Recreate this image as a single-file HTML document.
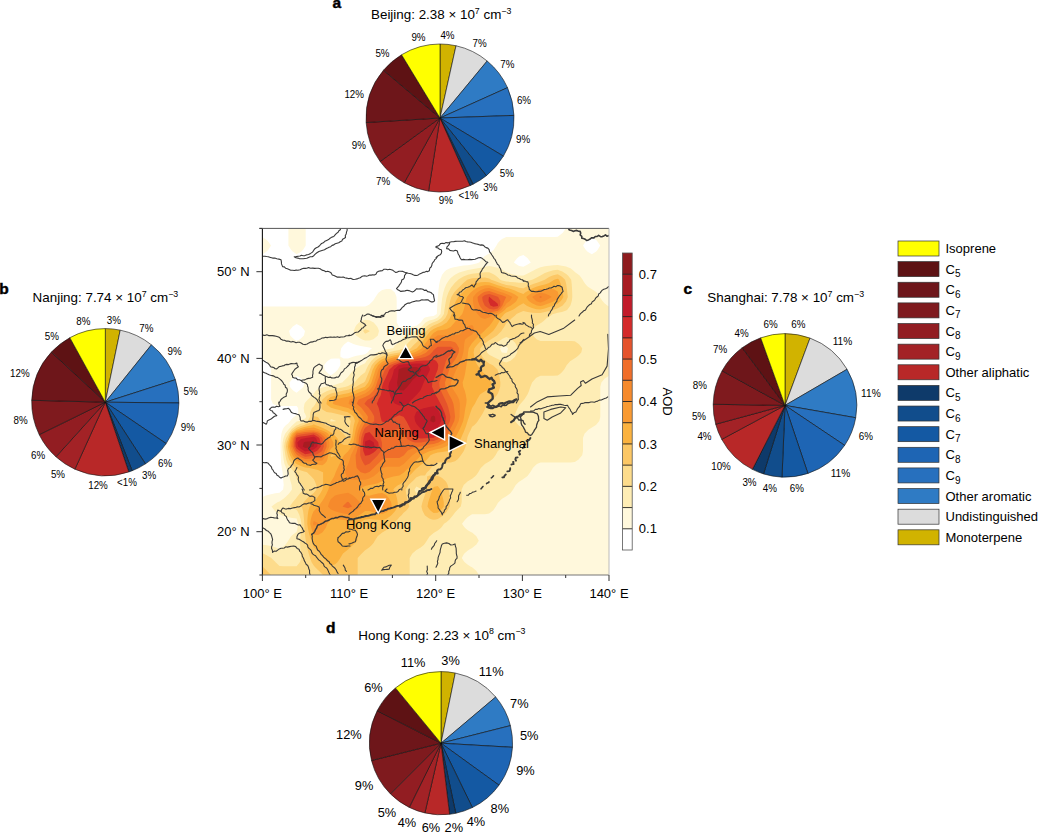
<!DOCTYPE html><html><head><meta charset="utf-8"><style>html,body{margin:0;padding:0;background:#fff;}svg{display:block;}</style></head><body><svg width="1039" height="833" viewBox="0 0 1039 833" font-family='"Liberation Sans", sans-serif' fill="#000">
<rect width="1039" height="833" fill="#fff"/>
<path d="M440.00 118.00L440.00 44.00A74 74 0 0 1 456.02 45.75Z" fill="#d1b300" stroke="#111" stroke-width="0.6" stroke-linejoin="round"/>
<path d="M440.00 118.00L456.02 45.75A74 74 0 0 1 487.17 60.98Z" fill="#dcdcdc" stroke="#111" stroke-width="0.6" stroke-linejoin="round"/>
<path d="M440.00 118.00L487.17 60.98A74 74 0 0 1 507.50 87.67Z" fill="#2f7bc4" stroke="#111" stroke-width="0.6" stroke-linejoin="round"/>
<path d="M440.00 118.00L507.50 87.67A74 74 0 0 1 513.95 115.42Z" fill="#2770be" stroke="#111" stroke-width="0.6" stroke-linejoin="round"/>
<path d="M440.00 118.00L513.95 115.42A74 74 0 0 1 503.43 156.11Z" fill="#1e65b4" stroke="#111" stroke-width="0.6" stroke-linejoin="round"/>
<path d="M440.00 118.00L503.43 156.11A74 74 0 0 1 486.37 175.67Z" fill="#1459a3" stroke="#111" stroke-width="0.6" stroke-linejoin="round"/>
<path d="M440.00 118.00L486.37 175.67A74 74 0 0 1 473.02 184.23Z" fill="#114d8c" stroke="#111" stroke-width="0.6" stroke-linejoin="round"/>
<path d="M440.00 118.00L473.02 184.23A74 74 0 0 1 469.98 185.65Z" fill="#0e3a6a" stroke="#111" stroke-width="0.6" stroke-linejoin="round"/>
<path d="M440.00 118.00L469.98 185.65A74 74 0 0 1 428.55 191.11Z" fill="#b82828" stroke="#111" stroke-width="0.6" stroke-linejoin="round"/>
<path d="M440.00 118.00L428.55 191.11A74 74 0 0 1 404.24 182.78Z" fill="#a32226" stroke="#111" stroke-width="0.6" stroke-linejoin="round"/>
<path d="M440.00 118.00L404.24 182.78A74 74 0 0 1 380.13 161.50Z" fill="#921d22" stroke="#111" stroke-width="0.6" stroke-linejoin="round"/>
<path d="M440.00 118.00L380.13 161.50A74 74 0 0 1 366.14 122.52Z" fill="#7f1a1e" stroke="#111" stroke-width="0.6" stroke-linejoin="round"/>
<path d="M440.00 118.00L366.14 122.52A74 74 0 0 1 383.48 70.24Z" fill="#6e161a" stroke="#111" stroke-width="0.6" stroke-linejoin="round"/>
<path d="M440.00 118.00L383.48 70.24A74 74 0 0 1 401.56 54.77Z" fill="#5e1214" stroke="#111" stroke-width="0.6" stroke-linejoin="round"/>
<path d="M440.00 118.00L401.56 54.77A74 74 0 0 1 440.00 44.00Z" fill="#ffff00" stroke="#111" stroke-width="0.6" stroke-linejoin="round"/>
<path d="M105.30 402.20L105.30 328.60A73.6 73.6 0 0 1 120.23 330.13Z" fill="#d1b300" stroke="#111" stroke-width="0.6" stroke-linejoin="round"/>
<path d="M105.30 402.20L120.23 330.13A73.6 73.6 0 0 1 151.42 344.84Z" fill="#dcdcdc" stroke="#111" stroke-width="0.6" stroke-linejoin="round"/>
<path d="M105.30 402.20L151.42 344.84A73.6 73.6 0 0 1 175.38 379.70Z" fill="#2f7bc4" stroke="#111" stroke-width="0.6" stroke-linejoin="round"/>
<path d="M105.30 402.20L175.38 379.70A73.6 73.6 0 0 1 178.90 402.97Z" fill="#2770be" stroke="#111" stroke-width="0.6" stroke-linejoin="round"/>
<path d="M105.30 402.20L178.90 402.97A73.6 73.6 0 0 1 166.17 443.57Z" fill="#1e65b4" stroke="#111" stroke-width="0.6" stroke-linejoin="round"/>
<path d="M105.30 402.20L166.17 443.57A73.6 73.6 0 0 1 145.49 463.86Z" fill="#1459a3" stroke="#111" stroke-width="0.6" stroke-linejoin="round"/>
<path d="M105.30 402.20L145.49 463.86A73.6 73.6 0 0 1 132.15 470.73Z" fill="#114d8c" stroke="#111" stroke-width="0.6" stroke-linejoin="round"/>
<path d="M105.30 402.20L132.15 470.73A73.6 73.6 0 0 1 128.78 471.96Z" fill="#0e3a6a" stroke="#111" stroke-width="0.6" stroke-linejoin="round"/>
<path d="M105.30 402.20L128.78 471.96A73.6 73.6 0 0 1 74.90 469.23Z" fill="#b82828" stroke="#111" stroke-width="0.6" stroke-linejoin="round"/>
<path d="M105.30 402.20L74.90 469.23A73.6 73.6 0 0 1 55.96 456.81Z" fill="#a32226" stroke="#111" stroke-width="0.6" stroke-linejoin="round"/>
<path d="M105.30 402.20L55.96 456.81A73.6 73.6 0 0 1 39.26 434.69Z" fill="#921d22" stroke="#111" stroke-width="0.6" stroke-linejoin="round"/>
<path d="M105.30 402.20L39.26 434.69A73.6 73.6 0 0 1 31.73 400.27Z" fill="#7f1a1e" stroke="#111" stroke-width="0.6" stroke-linejoin="round"/>
<path d="M105.30 402.20L31.73 400.27A73.6 73.6 0 0 1 51.38 352.10Z" fill="#6e161a" stroke="#111" stroke-width="0.6" stroke-linejoin="round"/>
<path d="M105.30 402.20L51.38 352.10A73.6 73.6 0 0 1 69.84 337.70Z" fill="#5e1214" stroke="#111" stroke-width="0.6" stroke-linejoin="round"/>
<path d="M105.30 402.20L69.84 337.70A73.6 73.6 0 0 1 105.30 328.60Z" fill="#ffff00" stroke="#111" stroke-width="0.6" stroke-linejoin="round"/>
<path d="M785.00 405.40L785.00 333.60A71.8 71.8 0 0 1 810.03 338.10Z" fill="#d1b300" stroke="#111" stroke-width="0.6" stroke-linejoin="round"/>
<path d="M785.00 405.40L810.03 338.10A71.8 71.8 0 0 1 847.05 369.28Z" fill="#dcdcdc" stroke="#111" stroke-width="0.6" stroke-linejoin="round"/>
<path d="M785.00 405.40L847.05 369.28A71.8 71.8 0 0 1 855.73 417.74Z" fill="#2f7bc4" stroke="#111" stroke-width="0.6" stroke-linejoin="round"/>
<path d="M785.00 405.40L855.73 417.74A71.8 71.8 0 0 1 844.66 445.34Z" fill="#2770be" stroke="#111" stroke-width="0.6" stroke-linejoin="round"/>
<path d="M785.00 405.40L844.66 445.34A71.8 71.8 0 0 1 807.90 473.45Z" fill="#1e65b4" stroke="#111" stroke-width="0.6" stroke-linejoin="round"/>
<path d="M785.00 405.40L807.90 473.45A71.8 71.8 0 0 1 781.99 477.14Z" fill="#1459a3" stroke="#111" stroke-width="0.6" stroke-linejoin="round"/>
<path d="M785.00 405.40L781.99 477.14A71.8 71.8 0 0 1 763.53 473.91Z" fill="#114d8c" stroke="#111" stroke-width="0.6" stroke-linejoin="round"/>
<path d="M785.00 405.40L763.53 473.91A71.8 71.8 0 0 1 752.40 469.37Z" fill="#0e3a6a" stroke="#111" stroke-width="0.6" stroke-linejoin="round"/>
<path d="M785.00 405.40L752.40 469.37A71.8 71.8 0 0 1 721.72 439.33Z" fill="#b82828" stroke="#111" stroke-width="0.6" stroke-linejoin="round"/>
<path d="M785.00 405.40L721.72 439.33A71.8 71.8 0 0 1 715.71 424.23Z" fill="#a32226" stroke="#111" stroke-width="0.6" stroke-linejoin="round"/>
<path d="M785.00 405.40L715.71 424.23A71.8 71.8 0 0 1 713.21 404.27Z" fill="#921d22" stroke="#111" stroke-width="0.6" stroke-linejoin="round"/>
<path d="M785.00 405.40L713.21 404.27A71.8 71.8 0 0 1 722.08 370.81Z" fill="#7f1a1e" stroke="#111" stroke-width="0.6" stroke-linejoin="round"/>
<path d="M785.00 405.40L722.08 370.81A71.8 71.8 0 0 1 742.19 347.76Z" fill="#6e161a" stroke="#111" stroke-width="0.6" stroke-linejoin="round"/>
<path d="M785.00 405.40L742.19 347.76A71.8 71.8 0 0 1 760.68 337.84Z" fill="#5e1214" stroke="#111" stroke-width="0.6" stroke-linejoin="round"/>
<path d="M785.00 405.40L760.68 337.84A71.8 71.8 0 0 1 785.00 333.60Z" fill="#ffff00" stroke="#111" stroke-width="0.6" stroke-linejoin="round"/>
<path d="M441.00 743.20L441.00 671.60A71.6 71.6 0 0 1 455.27 673.04Z" fill="#d1b300" stroke="#111" stroke-width="0.6" stroke-linejoin="round"/>
<path d="M441.00 743.20L455.27 673.04A71.6 71.6 0 0 1 495.69 696.99Z" fill="#dcdcdc" stroke="#111" stroke-width="0.6" stroke-linejoin="round"/>
<path d="M441.00 743.20L495.69 696.99A71.6 71.6 0 0 1 510.41 725.64Z" fill="#2f7bc4" stroke="#111" stroke-width="0.6" stroke-linejoin="round"/>
<path d="M441.00 743.20L510.41 725.64A71.6 71.6 0 0 1 512.48 747.32Z" fill="#2770be" stroke="#111" stroke-width="0.6" stroke-linejoin="round"/>
<path d="M441.00 743.20L512.48 747.32A71.6 71.6 0 0 1 499.00 785.18Z" fill="#1e65b4" stroke="#111" stroke-width="0.6" stroke-linejoin="round"/>
<path d="M441.00 743.20L499.00 785.18A71.6 71.6 0 0 1 472.39 807.55Z" fill="#1459a3" stroke="#111" stroke-width="0.6" stroke-linejoin="round"/>
<path d="M441.00 743.20L472.39 807.55A71.6 71.6 0 0 1 455.76 813.26Z" fill="#114d8c" stroke="#111" stroke-width="0.6" stroke-linejoin="round"/>
<path d="M441.00 743.20L455.76 813.26A71.6 71.6 0 0 1 449.60 814.28Z" fill="#0e3a6a" stroke="#111" stroke-width="0.6" stroke-linejoin="round"/>
<path d="M441.00 743.20L449.60 814.28A71.6 71.6 0 0 1 424.89 812.96Z" fill="#b82828" stroke="#111" stroke-width="0.6" stroke-linejoin="round"/>
<path d="M441.00 743.20L424.89 812.96A71.6 71.6 0 0 1 409.28 807.39Z" fill="#a32226" stroke="#111" stroke-width="0.6" stroke-linejoin="round"/>
<path d="M441.00 743.20L409.28 807.39A71.6 71.6 0 0 1 390.46 793.92Z" fill="#921d22" stroke="#111" stroke-width="0.6" stroke-linejoin="round"/>
<path d="M441.00 743.20L390.46 793.92A71.6 71.6 0 0 1 371.53 760.52Z" fill="#7f1a1e" stroke="#111" stroke-width="0.6" stroke-linejoin="round"/>
<path d="M441.00 743.20L371.53 760.52A71.6 71.6 0 0 1 377.15 710.81Z" fill="#6e161a" stroke="#111" stroke-width="0.6" stroke-linejoin="round"/>
<path d="M441.00 743.20L377.15 710.81A71.6 71.6 0 0 1 395.46 687.95Z" fill="#5e1214" stroke="#111" stroke-width="0.6" stroke-linejoin="round"/>
<path d="M441.00 743.20L395.46 687.95A71.6 71.6 0 0 1 441.00 671.60Z" fill="#ffff00" stroke="#111" stroke-width="0.6" stroke-linejoin="round"/>
<text x="411.42" y="40.56" font-size="11.0" textLength="14.16" lengthAdjust="spacingAndGlyphs">9%</text>
<text x="440.42" y="39.26" font-size="11.0" textLength="14.16" lengthAdjust="spacingAndGlyphs">4%</text>
<text x="472.52" y="46.86" font-size="11.0" textLength="14.16" lengthAdjust="spacingAndGlyphs">7%</text>
<text x="500.22" y="68.26" font-size="11.0" textLength="14.16" lengthAdjust="spacingAndGlyphs">7%</text>
<text x="516.92" y="104.36" font-size="11.0" textLength="14.16" lengthAdjust="spacingAndGlyphs">6%</text>
<text x="516.12" y="143.16" font-size="11.0" textLength="14.16" lengthAdjust="spacingAndGlyphs">9%</text>
<text x="499.72" y="176.76" font-size="11.0" textLength="14.16" lengthAdjust="spacingAndGlyphs">5%</text>
<text x="483.32" y="190.56" font-size="11.0" textLength="14.16" lengthAdjust="spacingAndGlyphs">3%</text>
<text x="458.56" y="198.96" font-size="11.0" textLength="19.88" lengthAdjust="spacingAndGlyphs">&lt;1%</text>
<text x="438.72" y="204.46" font-size="11.0" textLength="14.16" lengthAdjust="spacingAndGlyphs">9%</text>
<text x="405.92" y="201.96" font-size="11.0" textLength="14.16" lengthAdjust="spacingAndGlyphs">5%</text>
<text x="376.12" y="185.06" font-size="11.0" textLength="14.16" lengthAdjust="spacingAndGlyphs">7%</text>
<text x="351.72" y="149.46" font-size="11.0" textLength="14.16" lengthAdjust="spacingAndGlyphs">9%</text>
<text x="344.40" y="97.76" font-size="11.0" textLength="19.61" lengthAdjust="spacingAndGlyphs">12%</text>
<text x="375.42" y="57.46" font-size="11.0" textLength="14.16" lengthAdjust="spacingAndGlyphs">5%</text>
<text x="76.32" y="324.56" font-size="11.0" textLength="14.16" lengthAdjust="spacingAndGlyphs">8%</text>
<text x="106.72" y="323.66" font-size="11.0" textLength="14.16" lengthAdjust="spacingAndGlyphs">3%</text>
<text x="139.32" y="331.96" font-size="11.0" textLength="14.16" lengthAdjust="spacingAndGlyphs">7%</text>
<text x="167.52" y="355.46" font-size="11.0" textLength="14.16" lengthAdjust="spacingAndGlyphs">9%</text>
<text x="183.52" y="394.96" font-size="11.0" textLength="14.16" lengthAdjust="spacingAndGlyphs">5%</text>
<text x="180.72" y="430.86" font-size="11.0" textLength="14.16" lengthAdjust="spacingAndGlyphs">9%</text>
<text x="158.12" y="466.76" font-size="11.0" textLength="14.16" lengthAdjust="spacingAndGlyphs">6%</text>
<text x="142.12" y="478.96" font-size="11.0" textLength="14.16" lengthAdjust="spacingAndGlyphs">3%</text>
<text x="117.06" y="486.16" font-size="11.0" textLength="19.88" lengthAdjust="spacingAndGlyphs">&lt;1%</text>
<text x="88.20" y="489.46" font-size="11.0" textLength="19.61" lengthAdjust="spacingAndGlyphs">12%</text>
<text x="50.92" y="477.56" font-size="11.0" textLength="14.16" lengthAdjust="spacingAndGlyphs">5%</text>
<text x="31.02" y="458.96" font-size="11.0" textLength="14.16" lengthAdjust="spacingAndGlyphs">6%</text>
<text x="13.62" y="423.66" font-size="11.0" textLength="14.16" lengthAdjust="spacingAndGlyphs">8%</text>
<text x="10.10" y="376.76" font-size="11.0" textLength="19.61" lengthAdjust="spacingAndGlyphs">12%</text>
<text x="44.82" y="339.66" font-size="11.0" textLength="14.16" lengthAdjust="spacingAndGlyphs">5%</text>
<text x="763.62" y="327.76" font-size="11.0" textLength="14.16" lengthAdjust="spacingAndGlyphs">6%</text>
<text x="791.22" y="327.76" font-size="11.0" textLength="14.16" lengthAdjust="spacingAndGlyphs">6%</text>
<text x="832.70" y="345.16" font-size="11.0" textLength="19.61" lengthAdjust="spacingAndGlyphs">11%</text>
<text x="861.10" y="396.76" font-size="11.0" textLength="19.61" lengthAdjust="spacingAndGlyphs">11%</text>
<text x="858.82" y="439.56" font-size="11.0" textLength="14.16" lengthAdjust="spacingAndGlyphs">6%</text>
<text x="830.70" y="476.76" font-size="11.0" textLength="19.61" lengthAdjust="spacingAndGlyphs">11%</text>
<text x="789.82" y="491.96" font-size="11.0" textLength="14.16" lengthAdjust="spacingAndGlyphs">6%</text>
<text x="762.82" y="491.96" font-size="11.0" textLength="14.16" lengthAdjust="spacingAndGlyphs">4%</text>
<text x="742.42" y="486.46" font-size="11.0" textLength="14.16" lengthAdjust="spacingAndGlyphs">3%</text>
<text x="711.20" y="470.46" font-size="11.0" textLength="19.61" lengthAdjust="spacingAndGlyphs">10%</text>
<text x="697.42" y="439.56" font-size="11.0" textLength="14.16" lengthAdjust="spacingAndGlyphs">4%</text>
<text x="691.92" y="419.66" font-size="11.0" textLength="14.16" lengthAdjust="spacingAndGlyphs">5%</text>
<text x="692.72" y="389.26" font-size="11.0" textLength="14.16" lengthAdjust="spacingAndGlyphs">8%</text>
<text x="713.12" y="352.56" font-size="11.0" textLength="14.16" lengthAdjust="spacingAndGlyphs">7%</text>
<text x="734.62" y="336.86" font-size="11.0" textLength="14.16" lengthAdjust="spacingAndGlyphs">4%</text>
<text x="413.1" y="666.808" font-size="12.8" text-anchor="middle" font-weight="normal" >11%</text>
<text x="450.6" y="665.4079999999999" font-size="12.8" text-anchor="middle" font-weight="normal" >3%</text>
<text x="491.2" y="676.108" font-size="12.8" text-anchor="middle" font-weight="normal" >11%</text>
<text x="519.3" y="708.208" font-size="12.8" text-anchor="middle" font-weight="normal" >7%</text>
<text x="529.2" y="739.808" font-size="12.8" text-anchor="middle" font-weight="normal" >5%</text>
<text x="525.5" y="774.608" font-size="12.8" text-anchor="middle" font-weight="normal" >9%</text>
<text x="499.8" y="812.608" font-size="12.8" text-anchor="middle" font-weight="normal" >8%</text>
<text x="476" y="826.0079999999999" font-size="12.8" text-anchor="middle" font-weight="normal" >4%</text>
<text x="453.8" y="831.9079999999999" font-size="12.8" text-anchor="middle" font-weight="normal" >2%</text>
<text x="431" y="831.9079999999999" font-size="12.8" text-anchor="middle" font-weight="normal" >6%</text>
<text x="407" y="827.308" font-size="12.8" text-anchor="middle" font-weight="normal" >4%</text>
<text x="386.9" y="816.608" font-size="12.8" text-anchor="middle" font-weight="normal" >5%</text>
<text x="364.1" y="789.9079999999999" font-size="12.8" text-anchor="middle" font-weight="normal" >9%</text>
<text x="348.9" y="739.0079999999999" font-size="12.8" text-anchor="middle" font-weight="normal" >12%</text>
<text x="373.5" y="691.708" font-size="12.8" text-anchor="middle" font-weight="normal" >6%</text>
<text x="332.6" y="8" font-size="15.5" text-anchor="start" font-weight="bold" stroke="#000" stroke-width="0.45">a</text>
<text x="-0.8" y="293.5" font-size="15.5" text-anchor="start" font-weight="bold" stroke="#000" stroke-width="0.45">b</text>
<text x="683.6" y="294" font-size="15.5" text-anchor="start" font-weight="bold" stroke="#000" stroke-width="0.45">c</text>
<text x="326" y="633" font-size="15.5" text-anchor="start" font-weight="bold" stroke="#000" stroke-width="0.45">d</text>
<text x="371" y="19.2" font-size="13.4">Beijing: 2.38 × 10<tspan font-size="8.8" dy="-5.2">7</tspan><tspan dy="5.2"> cm</tspan><tspan font-size="8.8" dy="-5.2">−3</tspan></text>
<text x="32.6" y="302" font-size="13.4">Nanjing: 7.74 × 10<tspan font-size="8.8" dy="-5.2">7</tspan><tspan dy="5.2"> cm</tspan><tspan font-size="8.8" dy="-5.2">−3</tspan></text>
<text x="707.3" y="302" font-size="13.4">Shanghai: 7.78 × 10<tspan font-size="8.8" dy="-5.2">7</tspan><tspan dy="5.2"> cm</tspan><tspan font-size="8.8" dy="-5.2">−3</tspan></text>
<text x="358.3" y="639.6" font-size="13.4">Hong Kong: 2.23 × 10<tspan font-size="8.8" dy="-5.2">8</tspan><tspan dy="5.2"> cm</tspan><tspan font-size="8.8" dy="-5.2">−3</tspan></text>
<defs><clipPath id="mc"><rect x="262.4" y="228.4" width="346.6" height="346.6"/></clipPath></defs>
<g clip-path="url(#mc)">
<rect x="262.4" y="228.4" width="346.6" height="346.6" fill="#ffffff"/>
<path fill="#fff8dc" fill-rule="evenodd" d="M292.4 228.4L296.6 228.4L300.9 228.4L305.2 228.4L305.7 228.4L305.7 232.7L305.7 237.0L305.7 241.2L305.7 245.5L305.2 246.6L303.1 249.8L300.9 251.9L296.9 254.1L296.6 254.2L296.4 254.1L292.4 251.2L291.1 249.8L288.4 245.5L288.4 241.2L288.4 237.0L288.4 232.7L288.4 228.4ZM566.2 228.4L570.5 228.4L574.8 228.4L579.0 228.4L583.3 228.4L587.6 228.4L591.9 228.4L596.2 228.4L600.4 228.4L604.7 228.4L609.0 228.4L609.0 232.7L609.0 237.0L609.0 241.2L609.0 245.5L609.0 249.8L609.0 254.1L609.0 258.4L609.0 262.6L609.0 266.9L609.0 271.2L609.0 275.5L609.0 279.7L609.0 284.0L609.0 288.3L609.0 292.6L609.0 296.9L609.0 301.1L609.0 305.4L609.0 309.7L609.0 314.0L609.0 318.3L609.0 322.5L609.0 326.8L609.0 331.1L609.0 335.4L609.0 339.7L609.0 343.9L609.0 348.2L609.0 352.5L609.0 356.8L609.0 361.0L609.0 365.3L609.0 369.6L609.0 373.9L609.0 378.2L609.0 382.4L609.0 386.7L609.0 391.0L609.0 395.3L609.0 399.6L609.0 403.8L609.0 408.1L609.0 412.4L609.0 416.7L609.0 421.0L609.0 425.2L609.0 429.5L609.0 433.8L609.0 438.1L609.0 442.4L609.0 446.6L609.0 450.9L609.0 455.2L609.0 459.5L609.0 463.7L609.0 468.0L609.0 472.3L609.0 476.6L609.0 480.9L609.0 485.1L609.0 489.4L609.0 493.7L609.0 498.0L609.0 502.3L609.0 506.5L609.0 510.8L609.0 515.1L609.0 519.4L609.0 523.7L609.0 527.9L609.0 532.2L609.0 536.5L609.0 540.8L609.0 545.0L609.0 549.3L609.0 553.6L609.0 557.9L609.0 562.2L609.0 566.4L609.0 570.7L609.0 575.0L604.7 575.0L600.4 575.0L596.2 575.0L591.9 575.0L587.6 575.0L583.3 575.0L579.0 575.0L574.8 575.0L570.5 575.0L566.2 575.0L561.9 575.0L557.7 575.0L553.4 575.0L549.1 575.0L544.8 575.0L540.5 575.0L536.3 575.0L532.0 575.0L527.7 575.0L523.4 575.0L519.1 575.0L514.9 575.0L510.6 575.0L506.3 575.0L502.0 575.0L497.7 575.0L493.5 575.0L489.2 575.0L484.9 575.0L480.6 575.0L476.4 575.0L472.1 575.0L467.8 575.0L463.5 575.0L459.2 575.0L455.0 575.0L450.7 575.0L446.4 575.0L442.1 575.0L437.8 575.0L433.6 575.0L429.3 575.0L425.0 575.0L420.7 575.0L416.4 575.0L412.2 575.0L407.9 575.0L403.6 575.0L399.3 575.0L395.0 575.0L390.8 575.0L386.5 575.0L382.2 575.0L377.9 575.0L373.7 575.0L369.4 575.0L365.1 575.0L360.8 575.0L356.5 575.0L352.3 575.0L348.0 575.0L343.7 575.0L339.4 575.0L335.1 575.0L330.9 575.0L326.6 575.0L322.3 575.0L318.0 575.0L313.7 575.0L309.5 575.0L305.2 575.0L300.9 575.0L296.6 575.0L292.4 575.0L288.1 575.0L283.8 575.0L279.5 575.0L275.2 575.0L271.0 575.0L266.7 575.0L262.4 575.0L262.4 570.7L262.4 566.4L262.4 562.2L262.4 557.9L262.4 553.6L262.4 549.3L262.4 545.0L262.4 540.8L262.4 536.5L262.4 532.2L262.4 527.9L262.4 523.7L262.4 519.4L262.4 515.1L262.4 510.8L262.4 506.5L262.4 502.3L262.4 498.0L262.4 497.0L266.7 495.3L271.0 494.2L273.1 493.7L275.2 493.3L279.5 492.7L283.1 489.4L283.7 485.1L283.3 480.9L282.9 476.6L282.6 472.3L281.8 468.0L281.2 463.7L280.9 459.5L280.7 455.2L280.6 450.9L280.5 446.6L280.6 442.4L280.9 438.1L281.4 433.8L282.7 429.5L283.8 427.4L285.8 425.2L288.1 423.5L290.2 421.0L292.4 418.3L294.3 416.7L296.6 414.9L298.3 412.4L298.1 408.1L296.6 406.0L292.4 406.0L288.1 406.0L283.8 406.0L279.5 406.0L275.2 405.1L272.8 403.8L271.1 399.6L271.1 395.3L271.1 391.0L271.1 386.7L271.1 382.4L271.1 378.2L271.1 373.9L271.1 369.6L271.0 369.1L270.1 365.3L266.7 361.2L266.5 361.0L262.4 358.4L262.4 356.8L262.4 352.5L262.4 348.2L262.4 343.9L262.4 339.7L262.4 335.4L262.4 331.1L262.4 326.8L262.4 322.5L262.4 318.3L262.4 314.0L262.4 309.7L262.4 306.4L266.7 306.4L271.0 306.4L275.2 306.4L279.5 306.4L283.8 306.4L288.1 306.4L292.4 306.4L296.6 306.4L300.9 306.4L305.2 306.4L309.5 306.4L313.7 306.4L318.0 306.4L322.3 306.4L326.6 306.4L330.9 306.4L335.1 306.4L339.4 306.4L343.7 306.4L348.0 306.4L352.3 306.4L356.5 306.4L360.8 306.4L365.1 306.4L367.6 305.4L369.4 304.6L372.9 301.1L373.7 300.1L375.5 296.9L377.9 293.4L378.7 292.6L382.2 289.9L386.5 289.1L390.8 289.1L394.8 292.6L395.0 292.9L396.5 296.9L396.7 301.1L396.7 305.4L396.7 309.7L396.7 314.0L396.7 318.3L396.7 322.5L399.1 326.8L399.3 327.0L403.6 327.5L407.9 326.8L407.9 326.8L412.2 326.2L416.4 325.7L420.7 322.5L420.7 322.5L423.9 318.3L425.0 317.5L429.3 316.4L433.6 315.9L436.8 314.0L437.0 309.7L437.3 305.4L437.6 301.1L437.8 298.5L437.9 296.9L438.2 292.6L438.7 288.3L439.3 284.0L440.2 279.7L441.8 275.5L442.1 274.8L444.9 271.2L446.4 270.1L450.7 268.1L455.0 267.0L455.2 266.9L459.2 266.2L463.5 265.6L467.8 265.2L472.1 264.6L476.4 263.5L479.2 262.6L480.6 260.4L482.3 258.4L484.9 256.1L488.3 254.1L489.2 253.6L493.5 250.1L493.7 249.8L496.5 245.5L497.7 243.3L499.4 241.2L502.0 238.9L506.3 237.1L510.6 237.1L514.9 237.1L519.1 237.1L523.4 237.1L527.7 237.1L532.0 237.1L536.3 237.1L540.5 237.1L544.8 237.1L549.1 237.1L553.4 237.1L554.8 237.0L557.7 236.7L561.9 233.6L562.8 232.7L565.7 228.4ZM586.0 241.2L583.3 245.1L583.1 245.5L583.3 246.0L585.7 249.8L587.6 251.7L591.4 254.1L591.9 254.3L592.3 254.1L596.2 251.4L597.7 249.8L600.2 245.5L597.3 241.2L596.2 240.1L591.9 237.2L587.6 239.7ZM516.9 258.4L514.9 261.0L513.9 262.6L514.9 263.3L519.1 265.9L523.4 266.8L527.7 264.4L530.8 262.6L527.8 258.4L527.7 258.3L523.4 255.0L519.1 256.4ZM292.5 326.8L292.4 326.9L289.1 331.1L290.2 335.4L292.4 337.8L294.7 339.7L296.6 340.8L299.1 339.7L300.9 338.6L303.9 335.4L305.0 331.1L301.6 326.8L300.9 326.2L296.6 323.9ZM344.7 343.9L343.7 344.9L341.2 348.2L340.4 352.5L340.4 356.8L343.7 358.4L348.0 358.4L352.3 357.0L353.0 356.8L356.5 355.8L360.8 354.9L365.1 354.2L367.6 352.5L369.4 350.2L372.0 348.2L369.4 347.4L365.1 346.7L360.8 346.0L356.5 345.1L353.4 343.9L352.3 343.4L348.0 341.6ZM327.6 361.0L326.6 362.0L324.0 365.3L324.6 369.6L326.6 372.1L328.7 373.9L330.9 375.3L332.8 373.9L335.1 372.3L337.8 369.6L339.4 366.7L340.4 365.3L340.4 361.0L339.4 358.4L335.1 358.4L330.9 358.8ZM293.2 378.2L292.4 378.9L289.5 382.4L289.8 386.7L292.4 389.8L293.8 391.0L296.6 392.8L298.7 391.0L300.9 389.2L303.4 386.7L304.6 382.4L300.9 378.2L300.9 378.2L296.6 375.9ZM266.7 239.9L268.0 241.2L271.0 245.5L268.4 249.8L266.7 251.6L263.0 254.1L262.4 254.4L262.4 254.1L262.4 249.8L262.4 245.5L262.4 241.2L262.4 237.1Z"/>
<path fill="#feedb5" fill-rule="evenodd" d="M484.9 266.7L489.2 266.1L493.5 266.8L494.2 266.9L497.7 267.8L502.0 269.5L504.8 271.2L506.3 272.3L510.6 273.8L514.9 274.9L518.2 275.5L519.1 275.6L523.4 275.5L523.5 275.5L527.7 273.4L532.0 271.2L532.1 271.2L536.3 269.1L540.5 267.2L541.8 266.9L544.8 266.3L549.1 265.8L553.4 265.3L557.7 265.1L561.9 265.7L566.2 266.6L567.1 266.9L570.5 268.3L574.2 271.2L574.8 271.9L579.0 275.0L579.6 275.5L582.7 279.7L583.3 281.0L585.3 284.0L587.6 286.4L590.3 288.3L591.9 289.2L596.2 292.1L596.7 292.6L599.9 296.9L600.4 297.9L602.5 301.1L604.7 303.5L607.3 305.4L609.0 306.4L609.0 309.7L609.0 314.0L609.0 318.3L609.0 322.5L609.0 326.8L609.0 331.1L609.0 335.4L609.0 339.7L609.0 343.9L609.0 348.2L609.0 352.5L609.0 356.8L609.0 361.0L609.0 365.3L609.0 369.6L609.0 373.9L609.0 375.7L605.2 378.2L604.7 378.5L601.4 382.4L600.4 386.3L600.3 386.7L600.3 391.0L600.3 395.3L600.3 399.6L600.3 403.8L600.3 408.1L600.3 412.4L600.3 416.7L599.3 421.0L596.2 424.7L595.5 425.2L591.9 427.6L588.7 429.5L587.6 430.4L584.5 433.8L583.3 437.0L583.0 438.1L583.0 442.4L583.0 446.6L583.0 450.9L582.2 455.2L579.0 459.1L578.7 459.5L574.8 462.1L570.5 462.4L566.2 462.4L561.9 462.4L557.7 462.4L553.4 462.4L549.1 462.4L544.8 462.4L540.5 462.4L537.5 463.7L536.3 464.5L532.8 468.0L532.0 469.4L530.3 472.3L527.7 475.8L526.9 476.6L523.4 479.1L520.4 480.9L519.1 481.7L515.7 485.1L514.9 486.4L513.1 489.4L510.6 492.9L509.8 493.7L506.3 496.3L503.4 498.0L502.0 498.8L498.5 502.3L497.7 503.3L495.9 506.5L493.5 510.0L492.7 510.8L489.2 513.5L484.9 514.3L480.6 514.3L476.4 514.3L472.1 514.3L470.8 515.1L467.8 516.9L465.3 519.4L463.5 521.8L462.0 523.7L463.5 526.0L465.1 527.9L467.8 530.2L471.3 532.2L472.1 532.6L476.4 536.3L476.5 536.5L478.8 540.8L476.4 544.4L475.8 545.0L472.1 548.1L469.8 549.3L467.8 550.5L464.4 553.6L463.5 554.8L461.8 557.9L463.5 560.7L464.7 562.2L467.8 564.8L470.5 566.4L472.1 567.3L476.2 570.7L476.4 570.9L479.0 575.0L476.4 575.0L472.1 575.0L467.8 575.0L463.5 575.0L459.2 575.0L455.0 575.0L450.7 575.0L446.4 575.0L442.1 575.0L437.8 575.0L433.6 575.0L429.3 575.0L425.0 575.0L420.7 575.0L416.4 575.0L412.2 575.0L407.9 575.0L403.6 575.0L399.3 575.0L395.0 575.0L390.8 575.0L386.5 575.0L382.2 575.0L377.9 575.0L373.7 575.0L369.4 575.0L365.1 575.0L360.8 575.0L356.5 575.0L352.3 575.0L348.0 575.0L343.7 575.0L339.4 575.0L335.1 575.0L330.9 575.0L326.6 575.0L322.3 575.0L318.0 575.0L313.7 575.0L309.5 575.0L305.2 575.0L300.9 575.0L296.6 575.0L292.4 575.0L288.1 575.0L283.8 575.0L279.5 575.0L275.2 575.0L271.0 575.0L266.7 575.0L262.4 575.0L262.4 570.7L262.4 566.4L262.4 562.2L262.4 557.9L262.4 553.6L262.4 549.3L262.4 545.0L262.4 544.7L265.2 545.0L266.7 545.3L271.0 546.1L275.2 547.2L279.5 548.9L283.8 546.3L285.2 545.0L288.1 541.0L288.2 540.8L290.9 536.5L292.4 534.9L296.1 532.2L296.6 531.9L297.5 527.9L298.1 523.7L296.9 519.4L296.6 518.6L292.4 518.0L288.1 517.2L283.8 516.0L281.4 515.1L279.5 514.2L275.2 511.3L274.7 510.8L271.5 506.5L275.2 503.7L277.5 502.3L279.5 501.4L283.8 498.5L284.4 498.0L288.1 494.5L288.8 493.7L292.0 489.4L291.6 485.1L290.4 480.9L289.4 476.6L288.6 472.3L288.1 471.6L286.2 468.0L284.4 463.7L283.8 460.5L283.6 459.5L283.1 455.2L282.7 450.9L282.4 446.6L282.6 442.4L283.5 438.1L283.8 437.2L285.1 433.8L288.1 430.1L288.5 429.5L292.4 425.2L292.4 425.2L296.6 421.5L298.6 421.0L300.9 420.1L305.2 418.5L306.2 416.7L305.2 414.1L304.2 412.4L303.7 408.1L304.5 403.8L305.2 402.5L307.9 399.6L309.5 398.0L312.1 395.3L313.7 393.7L315.6 391.0L318.0 389.1L322.3 387.4L326.0 386.7L326.6 386.6L330.9 385.9L335.1 384.7L339.4 383.3L342.3 382.4L343.7 381.1L346.6 378.2L348.0 376.8L350.2 373.9L352.3 371.6L354.4 369.6L356.5 367.9L360.6 365.3L360.8 365.2L365.1 363.2L366.4 361.0L369.4 357.7L370.3 356.8L373.7 354.3L377.7 352.5L377.9 352.4L382.2 350.6L386.5 349.5L390.8 348.6L393.2 348.2L395.0 345.6L396.7 343.9L399.3 342.0L401.0 339.7L403.6 337.1L405.3 335.4L407.9 333.7L412.2 331.8L414.2 331.1L416.4 330.6L420.7 327.8L421.6 326.8L425.0 323.0L425.6 322.5L429.3 320.4L433.6 319.4L436.3 318.3L437.8 317.3L440.5 314.0L440.9 309.7L441.3 305.4L441.8 301.1L442.1 298.5L442.4 296.9L443.3 292.6L444.6 288.3L446.4 284.1L446.4 284.0L449.2 279.7L450.7 278.1L453.9 275.5L455.0 274.8L459.2 272.6L463.4 271.2L463.5 271.2L467.8 270.1L472.1 269.3L476.4 268.5L480.6 267.7L484.0 266.9ZM499.8 348.2L501.9 352.5L502.0 352.5L506.3 353.0L506.9 352.5L508.1 348.2L506.3 346.4L502.0 347.1ZM360.8 321.4L365.1 319.7L369.4 320.3L373.7 322.5L373.7 322.5L377.3 326.8L377.9 328.0L379.0 331.1L377.9 335.2L377.9 335.4L373.7 339.0L372.0 339.7L369.4 340.4L365.1 340.6L362.8 339.7L360.8 338.7L356.5 335.8L356.1 335.4L353.7 331.1L355.4 326.8L356.5 325.1L359.1 322.5Z"/>
<path fill="#fddc8c" fill-rule="evenodd" d="M553.4 270.3L557.7 269.7L561.6 271.2L561.9 271.3L566.2 273.9L568.0 275.5L570.5 278.7L571.2 279.7L571.7 284.0L572.0 288.3L572.2 292.6L572.3 296.9L571.8 301.1L570.5 305.3L570.4 305.4L567.3 309.7L566.2 310.4L561.9 312.0L557.7 312.8L553.4 313.9L552.9 314.0L549.1 316.7L546.4 318.3L544.8 320.1L541.8 322.5L540.5 323.3L536.3 325.8L535.1 326.8L532.0 330.6L531.7 331.1L532.0 332.2L532.8 335.4L536.3 338.9L537.5 339.7L540.5 341.0L544.8 341.0L549.1 341.0L553.4 341.0L557.7 341.0L561.9 341.0L566.2 341.0L570.5 341.0L574.8 341.3L578.7 343.9L579.0 344.3L582.2 348.2L581.3 352.5L579.0 355.1L577.0 356.8L574.8 358.2L570.5 360.9L570.3 361.0L566.6 365.3L566.2 366.1L564.2 369.6L561.9 372.3L560.0 373.9L557.7 375.4L553.4 375.7L549.1 375.7L544.8 375.7L540.5 375.7L536.3 377.8L535.8 378.2L532.1 382.4L532.0 382.7L530.4 386.7L529.0 391.0L527.7 394.0L527.0 395.3L524.3 399.6L523.4 400.6L520.5 403.8L519.1 405.6L517.7 408.1L515.7 412.4L514.9 414.9L514.3 416.7L514.8 421.0L514.9 421.1L518.5 425.2L519.1 425.7L523.4 428.3L525.4 429.5L527.7 431.6L529.5 433.8L530.1 438.1L527.7 441.2L526.4 442.4L523.4 444.5L519.1 445.0L514.9 445.0L510.6 445.0L506.3 445.0L502.4 446.6L502.0 446.8L498.0 450.9L497.7 451.3L495.5 455.2L493.5 458.0L492.0 459.5L489.2 461.5L485.3 463.7L484.9 464.0L480.8 468.0L480.6 468.3L478.3 472.3L476.4 475.1L474.9 476.6L472.1 478.7L468.3 480.9L467.8 481.2L463.7 485.1L463.5 485.4L461.7 489.4L461.7 493.7L461.7 498.0L461.7 502.3L460.8 506.5L459.2 508.1L456.6 510.8L455.0 512.4L453.2 515.1L450.7 518.0L449.5 519.4L446.4 522.2L444.0 523.7L442.1 526.6L440.9 527.9L437.8 530.5L434.8 532.2L433.6 532.9L429.5 536.5L429.3 536.8L426.8 540.8L425.0 543.6L423.8 545.0L420.7 547.6L417.8 549.3L416.4 550.1L412.4 553.6L412.2 553.8L409.7 557.9L409.7 562.2L409.7 566.4L409.7 570.7L409.7 575.0L407.9 575.0L403.6 575.0L399.3 575.0L395.0 575.0L390.8 575.0L386.5 575.0L382.2 575.0L377.9 575.0L373.7 575.0L369.4 575.0L365.1 575.0L360.8 575.0L356.5 575.0L352.3 575.0L348.0 575.0L343.7 575.0L339.4 575.0L335.1 575.0L330.9 575.0L326.6 575.0L322.3 575.0L318.0 575.0L313.7 575.0L309.5 575.0L305.2 575.0L300.9 575.0L296.6 575.0L292.4 575.0L288.1 575.0L283.8 575.0L279.5 575.0L275.2 575.0L271.0 575.0L266.7 575.0L262.4 575.0L262.4 570.7L262.4 566.4L262.4 562.2L262.4 557.9L262.4 553.6L262.4 553.3L263.1 553.6L266.7 555.2L271.0 557.7L271.3 557.9L275.2 561.8L275.6 562.2L279.5 566.1L283.8 566.3L288.1 566.3L292.4 566.3L296.6 566.3L299.8 562.2L300.9 559.4L301.3 557.9L300.9 553.6L300.9 553.3L300.5 549.3L300.2 545.0L299.9 540.8L300.4 536.5L300.9 532.2L300.9 531.7L301.2 527.9L301.4 523.7L300.9 520.7L300.7 519.4L299.4 515.1L297.3 510.8L296.6 509.9L292.4 508.0L289.7 506.5L292.4 502.8L292.7 502.3L296.4 498.0L296.6 497.6L299.6 493.7L300.9 492.3L304.2 489.4L302.5 485.1L300.9 483.5L298.6 480.9L296.6 478.6L295.9 476.6L294.5 472.3L292.4 469.9L290.9 468.0L288.1 464.7L287.6 463.7L286.2 459.5L285.4 455.2L284.7 450.9L284.2 446.6L284.7 442.4L286.1 438.1L288.1 434.6L288.4 433.8L291.4 429.5L292.4 428.5L296.6 425.6L297.5 425.2L300.9 423.5L305.2 422.4L307.8 421.0L309.5 417.9L310.1 416.7L310.1 412.4L312.0 408.1L313.7 406.5L315.5 403.8L317.4 399.6L318.0 398.5L320.4 395.3L322.3 393.6L326.6 391.2L327.0 391.0L330.9 389.8L335.1 388.9L339.4 388.0L343.7 387.2L345.9 386.7L348.0 386.1L352.3 383.8L354.7 382.4L356.5 380.0L358.1 378.2L360.8 375.5L362.8 373.9L365.1 372.2L366.2 369.6L368.3 365.3L369.4 363.8L371.2 361.0L373.7 358.5L376.0 356.8L377.9 355.7L382.2 353.9L386.5 352.8L388.1 352.5L390.8 351.8L395.0 350.8L399.3 350.0L403.6 348.6L404.6 348.2L407.2 343.9L407.9 343.1L411.2 339.7L412.2 338.9L416.4 336.2L417.3 335.4L420.7 332.4L421.8 331.1L425.0 327.7L426.0 326.8L429.3 324.2L432.9 322.5L433.6 322.3L437.8 320.6L440.9 318.3L442.1 316.7L443.9 314.0L444.5 309.7L445.1 305.4L445.9 301.1L446.4 298.6L446.8 296.9L448.4 292.6L450.6 288.3L450.7 288.1L453.9 284.0L455.0 282.8L458.2 279.7L459.2 279.0L463.5 276.6L466.0 275.5L467.8 274.8L472.1 273.7L476.4 273.3L480.6 272.8L484.9 272.2L489.2 272.3L493.5 274.2L495.5 275.5L497.7 277.2L500.2 279.7L502.0 280.4L506.3 281.6L510.6 281.9L514.9 282.2L519.1 282.7L523.4 282.8L527.7 281.1L532.0 279.8L532.3 279.7L536.3 277.8L540.5 275.5L540.5 275.4L544.8 273.1L549.1 271.5L550.1 271.2ZM501.3 339.7L497.7 342.0L494.2 343.9L493.5 344.3L489.2 346.2L486.6 348.2L487.0 352.5L489.2 354.8L493.1 356.8L493.5 356.9L497.7 359.1L501.7 361.0L502.0 361.2L506.3 362.4L509.8 361.0L510.6 360.7L514.9 357.0L515.0 356.8L517.2 352.5L517.6 348.2L515.9 343.9L514.9 342.4L512.0 339.7L510.6 338.8L506.3 337.1L502.0 339.1ZM330.1 421.0L330.9 421.4L335.1 421.2L336.1 421.0L335.1 420.4L330.9 419.1ZM414.5 489.4L416.4 493.7L416.4 493.8L416.5 493.7L420.7 490.0L420.9 489.4L420.7 488.8L416.4 486.4ZM365.1 329.1L369.4 330.8L369.7 331.1L369.4 331.5L365.1 333.7L363.1 331.1Z"/>
<path fill="#fcc765" fill-rule="evenodd" d="M553.4 275.2L557.7 274.2L559.9 275.5L561.9 276.8L565.1 279.7L566.2 283.9L566.2 284.0L566.8 288.3L567.3 292.6L567.8 296.9L566.2 301.1L566.2 301.2L562.6 305.4L561.9 306.0L557.7 308.3L553.5 309.7L553.4 309.7L549.1 311.0L544.8 312.1L540.5 313.1L536.3 313.1L532.0 312.7L527.7 312.1L523.4 311.1L519.1 312.7L516.5 314.0L514.9 315.8L511.7 318.3L510.6 319.6L507.1 322.5L506.3 323.0L504.3 326.8L502.0 330.1L501.5 331.1L497.7 334.7L497.0 335.4L493.5 337.8L490.3 339.7L489.2 340.3L484.9 343.5L484.4 343.9L480.6 347.9L480.3 348.2L480.1 352.5L480.6 353.8L482.3 356.8L484.9 360.2L485.9 361.0L489.2 363.5L492.9 365.3L493.5 365.8L497.5 369.6L497.7 370.4L498.8 373.9L499.7 378.2L500.4 382.4L500.2 386.7L498.9 391.0L497.7 393.7L496.8 395.3L493.5 398.8L492.4 399.6L489.2 402.0L487.6 403.8L485.4 408.1L484.9 408.9L483.2 412.4L480.7 416.7L480.6 416.8L477.9 421.0L476.4 423.1L474.2 425.2L472.1 426.7L470.9 429.5L468.8 433.8L467.8 436.3L467.3 438.1L466.6 442.4L465.6 446.6L463.8 450.9L463.5 451.5L460.9 455.2L459.2 457.5L457.4 459.5L455.0 461.3L450.7 462.4L446.4 462.4L442.1 462.4L437.8 462.4L435.9 463.7L433.6 465.2L430.9 468.0L429.3 470.3L427.0 472.3L425.0 475.4L420.7 475.4L418.3 476.6L416.4 477.3L412.9 480.9L412.2 481.6L408.6 485.1L407.9 486.1L405.5 489.4L406.2 493.7L407.0 498.0L407.9 501.1L408.3 502.3L409.3 506.5L407.9 508.7L406.1 510.8L403.6 512.8L401.8 515.1L399.3 517.2L397.5 519.4L395.0 521.7L392.0 523.7L390.8 525.7L388.9 527.9L386.5 530.0L382.7 532.2L382.2 532.5L377.9 536.0L377.5 536.5L374.8 540.8L373.7 542.7L371.8 545.0L369.4 547.2L366.6 549.3L365.1 550.3L361.8 553.6L360.8 554.6L357.7 557.9L357.7 562.2L357.7 566.4L357.7 570.7L357.7 575.0L356.5 575.0L352.3 575.0L348.0 575.0L343.7 575.0L339.4 575.0L335.1 575.0L330.9 575.0L326.6 575.0L323.1 575.0L322.3 574.3L318.8 570.7L318.0 570.0L314.5 566.4L313.7 565.6L311.6 562.2L310.1 557.9L309.5 556.1L308.7 553.6L307.5 549.3L306.6 545.0L305.8 540.8L305.2 536.5L305.2 536.4L304.8 532.2L304.5 527.9L304.3 523.7L304.0 519.4L303.6 515.1L303.0 510.8L301.8 506.5L303.8 502.3L305.2 500.5L307.6 498.0L309.5 496.3L312.8 493.7L313.7 493.1L316.5 489.4L316.3 485.1L314.7 480.9L313.7 479.0L311.3 476.6L309.5 474.8L307.0 472.3L305.2 471.8L300.9 470.5L296.6 468.6L296.1 468.0L292.4 464.4L291.8 463.7L289.0 459.5L288.1 456.9L287.7 455.2L286.7 450.9L286.0 446.6L286.6 442.4L288.1 439.1L288.4 438.1L290.0 433.8L292.4 430.9L294.3 429.5L296.6 427.7L300.9 426.1L303.5 425.2L305.2 424.6L309.5 422.9L311.7 421.0L313.6 416.7L313.7 416.2L316.7 416.7L318.0 416.9L320.6 421.0L322.3 422.6L326.0 425.2L326.6 425.4L330.9 427.2L335.1 428.4L338.4 429.5L339.4 430.0L343.5 433.8L343.7 434.1L346.9 438.1L348.0 438.7L348.3 438.1L349.3 433.8L349.7 429.5L350.1 425.2L350.7 421.0L348.1 416.7L348.0 416.6L343.7 415.5L339.4 414.5L335.1 413.4L330.9 412.5L329.9 412.4L326.6 412.0L322.3 409.4L321.8 408.1L321.1 403.8L322.3 399.9L322.4 399.6L326.6 395.7L327.3 395.3L330.9 393.4L335.1 392.4L339.4 391.5L341.9 391.0L343.7 390.6L348.0 389.8L352.3 388.3L356.2 386.7L356.5 386.5L360.8 384.1L363.8 382.4L365.1 381.2L366.3 378.2L368.1 373.9L369.4 371.1L369.9 369.6L371.7 365.3L373.7 362.7L375.3 361.0L377.9 358.9L381.7 356.8L382.2 356.5L386.5 355.1L390.8 354.1L395.0 353.3L399.3 352.6L399.7 352.5L403.6 351.2L407.9 349.5L410.8 348.2L412.2 346.5L414.7 343.9L416.4 342.4L419.0 339.7L420.7 337.9L422.6 335.4L425.0 332.4L426.1 331.1L429.3 328.2L431.3 326.8L433.6 325.6L437.8 323.7L440.2 322.5L442.1 321.2L445.2 318.3L446.4 316.1L447.5 314.0L448.3 309.7L449.2 305.4L450.1 301.1L450.7 298.9L451.4 296.9L454.1 292.6L455.0 291.5L458.1 288.3L459.2 287.2L462.4 284.0L463.5 283.0L467.2 279.7L467.8 279.4L472.1 278.2L476.4 278.0L480.6 277.8L484.9 277.6L489.2 278.4L491.2 279.7L493.5 280.6L497.7 282.1L502.0 283.7L503.2 284.0L506.3 284.9L510.6 285.6L514.9 286.4L519.1 287.7L523.1 288.3L523.4 288.4L523.5 288.3L527.7 286.1L532.0 284.4L533.0 284.0L536.3 282.9L540.5 281.6L544.8 279.8L544.8 279.7L549.1 277.1L552.6 275.5ZM429.3 475.4L433.6 475.4L437.8 476.0L439.5 476.6L442.1 477.9L445.4 480.9L446.4 482.3L447.7 485.1L448.8 489.4L449.3 493.7L449.6 498.0L449.9 502.3L449.7 506.5L447.3 510.8L446.4 512.0L443.6 515.1L442.1 516.3L437.8 519.1L435.8 519.4L433.6 519.8L432.1 519.4L429.3 518.4L425.0 515.5L424.7 515.1L422.5 510.8L421.4 506.5L422.4 502.3L423.8 498.0L425.0 494.4L425.3 493.7L426.7 489.4L427.0 485.1L427.0 480.9L427.0 476.6ZM262.5 566.4L266.7 570.6L266.8 570.7L271.0 574.9L271.1 575.0L271.0 575.0L266.7 575.0L262.4 575.0L262.4 570.7L262.4 566.4L262.4 566.3Z"/>
<path fill="#fbb23f" fill-rule="evenodd" d="M557.7 278.7L559.1 279.7L560.8 284.0L561.8 288.3L561.9 288.9L562.6 292.6L563.4 296.9L561.9 299.5L560.8 301.1L557.7 303.8L553.9 305.4L553.4 305.6L549.1 307.1L544.8 308.4L540.5 309.6L536.3 309.2L532.0 308.0L527.7 306.2L526.4 305.4L523.4 303.2L519.2 305.4L519.1 305.4L514.9 308.6L512.9 309.7L510.6 310.8L506.3 312.5L504.3 314.0L502.0 316.8L500.8 318.3L498.7 322.5L497.7 324.3L496.2 326.8L493.5 330.6L493.1 331.1L489.2 334.2L487.7 335.4L484.9 337.4L482.3 339.7L480.6 341.2L477.9 343.9L476.4 345.7L474.4 348.2L473.6 352.5L474.3 356.8L475.5 361.0L476.4 363.2L477.6 365.3L480.5 369.6L480.6 369.7L484.7 373.9L484.9 374.0L489.2 378.2L489.2 378.2L491.3 382.4L490.5 386.7L489.2 388.5L485.3 391.0L484.9 391.3L480.6 394.1L479.5 395.3L477.0 399.6L476.4 400.7L474.9 403.8L472.1 408.1L472.1 408.1L470.5 412.4L469.1 416.7L467.8 420.3L467.6 421.0L466.3 425.2L464.7 429.5L463.5 432.4L462.9 433.8L461.1 438.1L459.2 442.1L459.1 442.4L456.0 446.6L455.0 447.7L450.7 450.3L448.2 450.9L446.4 451.3L442.1 452.1L437.8 452.6L433.6 453.7L430.4 455.2L429.3 456.7L427.0 459.5L425.0 461.6L422.5 463.7L420.7 465.1L417.2 468.0L416.4 468.6L412.8 472.3L412.2 472.9L408.5 476.6L407.9 477.2L404.2 480.9L403.6 481.5L399.3 484.7L398.3 485.1L395.0 487.6L393.3 489.4L395.0 492.2L395.7 493.7L396.9 498.0L397.7 502.3L397.8 506.5L395.3 510.8L395.0 511.2L391.6 515.1L390.8 515.8L386.5 518.7L384.5 519.4L382.2 520.1L377.9 519.8L373.7 519.4L373.0 519.4L369.4 519.0L365.8 519.4L365.1 519.5L360.8 522.1L357.7 523.7L357.7 527.9L357.7 532.2L357.7 536.5L357.3 540.8L356.5 541.5L353.0 545.0L352.3 545.8L348.2 549.3L348.0 549.6L343.7 552.9L343.0 553.6L340.3 557.9L339.4 559.4L337.4 562.2L335.1 564.2L330.9 565.5L327.5 562.2L326.6 561.2L323.3 557.9L322.3 556.2L320.4 553.6L318.0 551.3L316.1 549.3L313.7 547.3L312.9 545.0L311.6 540.8L309.9 536.5L309.5 535.0L308.7 532.2L307.9 527.9L307.3 523.7L307.4 519.4L307.8 515.1L308.4 510.8L309.5 507.0L309.7 506.5L313.4 502.3L313.7 501.9L317.1 498.0L318.0 496.8L320.1 493.7L322.3 489.8L322.5 489.4L323.1 485.1L323.1 480.9L323.1 476.6L323.1 472.3L322.3 471.9L318.0 470.1L313.7 468.9L309.5 468.1L309.3 468.0L305.2 467.4L300.9 466.0L296.6 464.1L296.3 463.7L292.4 459.7L292.2 459.5L290.0 455.2L288.7 450.9L288.1 447.9L287.8 446.6L288.1 445.2L288.5 442.4L289.7 438.1L291.7 433.8L292.4 432.9L296.6 429.7L297.5 429.5L300.9 428.1L305.2 426.7L309.5 425.8L312.2 425.2L313.7 424.2L315.6 425.2L318.0 425.9L322.3 427.8L326.0 429.5L326.6 429.7L330.9 432.4L333.1 433.8L335.1 435.9L337.2 438.1L339.4 442.4L339.4 442.4L343.7 445.0L348.0 445.0L349.7 442.4L351.7 438.1L352.3 435.6L352.6 433.8L353.1 429.5L353.8 425.2L354.9 421.0L353.5 416.7L352.3 415.4L348.2 412.4L348.0 412.3L343.7 411.2L339.4 410.1L335.1 409.1L331.9 408.1L330.9 407.8L326.6 404.2L326.4 403.8L326.6 403.0L327.4 399.6L330.9 397.0L335.1 395.8L337.8 395.3L339.4 395.0L343.7 394.1L348.0 393.2L352.3 391.8L354.1 391.0L356.5 390.0L360.8 388.3L364.8 386.7L365.1 386.6L368.2 382.4L369.4 379.7L369.9 378.2L371.3 373.9L372.7 369.6L373.7 367.7L374.9 365.3L377.9 362.2L379.3 361.0L382.2 359.2L386.5 357.4L388.8 356.8L390.8 356.2L395.0 355.2L399.3 354.4L403.6 353.4L407.2 352.5L407.9 352.2L412.2 350.4L416.4 348.4L416.8 348.2L420.5 343.9L420.7 343.7L423.7 339.7L425.0 338.0L427.0 335.4L429.3 332.6L430.6 331.1L433.6 328.9L437.8 327.1L438.9 326.8L442.1 325.6L446.4 322.8L446.7 322.5L449.8 318.3L450.7 316.0L451.7 314.0L453.0 309.7L454.3 305.4L455.0 303.1L455.9 301.1L458.2 296.9L459.2 295.8L462.5 292.6L463.5 291.6L466.8 288.3L467.8 287.3L472.0 284.0L472.1 284.0L476.4 283.0L480.6 282.3L484.9 281.9L489.2 282.2L493.5 283.7L494.3 284.0L497.7 285.2L502.0 286.6L506.3 287.9L508.1 288.3L510.6 289.0L514.9 290.5L519.1 292.6L519.2 292.6L523.4 293.9L525.1 292.6L527.7 290.9L532.0 288.6L532.6 288.3L536.3 286.8L540.5 285.4L544.8 284.5L546.4 284.0L549.1 282.9L553.4 280.2L554.1 279.7ZM330.7 455.2L330.9 457.3L335.1 455.5L335.3 455.2L335.1 454.9L330.9 454.7ZM433.6 487.0L437.8 485.9L440.4 489.4L441.8 493.7L442.1 495.0L442.9 498.0L443.8 502.3L443.8 506.5L442.1 508.7L440.1 510.8L437.8 512.8L433.6 513.1L430.7 510.8L429.3 509.2L427.5 506.5L428.2 502.3L429.3 498.9L429.6 498.0L431.0 493.7L432.5 489.4Z"/>
<path fill="#f99a32" fill-rule="evenodd" d="M476.4 288.1L480.6 286.3L484.9 285.2L489.2 285.2L493.5 286.6L497.7 288.1L498.4 288.3L502.0 289.5L506.3 290.9L510.6 292.4L510.9 292.6L514.9 294.5L518.4 296.9L516.4 301.1L514.9 302.5L510.9 305.4L510.6 305.7L506.3 308.0L505.0 309.7L502.0 312.2L499.2 314.0L497.7 315.6L494.6 318.3L493.5 320.2L492.0 322.5L489.2 326.3L488.5 326.8L484.9 330.3L484.3 331.1L480.6 334.2L479.6 335.4L476.4 338.4L475.1 339.7L472.1 343.1L471.4 343.9L468.8 348.2L468.0 352.5L467.8 355.1L467.6 356.8L467.1 361.0L466.4 365.3L465.7 369.6L465.0 373.9L464.0 378.2L463.5 379.8L462.6 382.4L463.2 386.7L463.5 387.4L464.9 391.0L465.9 395.3L466.6 399.6L466.3 403.8L465.4 408.1L464.7 412.4L464.1 416.7L463.5 419.4L463.2 421.0L461.5 425.2L459.6 429.5L459.2 430.3L457.4 433.8L455.0 438.0L454.9 438.1L451.8 442.4L450.7 443.5L446.4 446.3L445.7 446.6L442.1 447.9L437.8 449.0L433.6 449.9L430.2 450.9L429.3 451.3L425.0 453.3L421.3 455.2L420.7 455.8L417.0 459.5L416.4 459.9L412.6 463.7L412.2 464.2L408.4 468.0L407.9 468.5L404.1 472.3L403.6 472.8L399.3 475.6L395.0 476.3L393.4 476.6L390.8 477.2L386.5 478.5L382.4 480.9L382.2 481.0L377.9 483.2L373.7 484.3L369.4 485.1L369.0 485.1L365.1 486.1L360.8 488.2L359.2 489.4L360.8 490.7L363.8 493.7L365.1 495.2L369.4 495.7L373.7 494.5L377.1 493.7L377.9 493.5L382.2 492.9L383.9 493.7L386.5 495.2L388.7 498.0L390.8 501.6L391.1 502.3L391.8 506.5L390.8 507.9L388.1 510.8L386.5 512.3L382.2 514.1L377.9 513.3L373.7 512.3L369.4 511.0L365.1 511.1L360.8 514.2L359.4 515.1L356.5 516.7L352.3 518.8L350.3 519.4L348.0 520.2L343.7 519.9L339.4 519.5L338.3 519.4L335.1 519.1L330.9 519.2L330.5 519.4L327.2 523.7L326.6 525.7L325.7 527.9L322.5 532.2L322.3 532.4L318.0 534.9L313.7 534.7L312.7 532.2L311.3 527.9L310.2 523.7L310.8 519.4L312.0 515.1L313.7 511.1L314.1 510.8L318.0 506.9L318.2 506.5L321.4 502.3L322.3 501.0L324.2 498.0L326.5 493.7L326.6 493.5L328.4 489.4L329.6 485.1L330.9 481.6L331.4 480.9L334.1 476.6L335.1 474.0L335.7 472.3L337.6 468.0L339.4 464.3L339.7 463.7L341.8 459.5L343.7 455.7L344.0 455.2L348.0 451.4L348.3 450.9L351.5 446.6L352.3 445.3L353.3 442.4L354.2 438.1L354.9 433.8L355.8 429.5L356.5 426.8L357.0 425.2L358.8 421.0L358.1 416.7L356.5 414.8L354.2 412.4L352.3 410.6L348.3 408.1L348.0 407.9L343.7 406.9L339.4 405.8L335.1 404.7L332.7 403.8L334.2 399.6L335.1 399.3L339.4 398.4L343.7 397.6L348.0 396.7L352.1 395.3L352.3 395.2L356.5 393.5L360.8 391.8L362.8 391.0L365.1 390.1L369.0 386.7L369.4 386.2L371.4 382.4L372.8 378.2L373.7 375.5L374.2 373.9L375.6 369.6L377.9 365.5L378.0 365.3L382.2 361.8L383.7 361.0L386.5 359.8L390.8 358.3L395.0 357.1L396.6 356.8L399.3 356.1L403.6 355.3L407.9 354.3L412.2 353.1L414.1 352.5L416.4 351.5L420.7 349.0L421.7 348.2L424.9 343.9L425.0 343.8L428.1 339.7L429.3 338.0L431.3 335.4L433.6 332.9L436.7 331.1L437.8 330.6L442.1 330.1L446.4 329.2L450.7 327.0L450.9 326.8L454.6 322.5L455.0 321.8L458.5 318.3L459.2 317.4L462.2 314.0L463.5 310.4L463.7 309.7L464.8 305.4L465.6 301.1L466.9 296.9L467.8 296.0L470.7 292.6L472.1 291.2L475.9 288.3ZM536.3 290.5L540.5 289.1L544.8 289.1L549.1 289.1L553.4 289.1L557.7 291.4L558.0 292.6L559.0 296.9L557.7 298.7L554.1 301.1L553.4 301.5L549.1 303.2L544.8 304.7L542.8 305.4L540.5 306.1L537.1 305.4L536.3 305.2L532.0 303.2L528.8 301.1L527.7 299.5L526.2 296.9L527.7 295.7L532.0 292.8L532.3 292.6ZM305.2 428.6L309.5 428.1L313.7 427.5L318.0 429.0L319.0 429.5L322.3 430.6L326.6 432.6L328.1 433.8L330.8 438.1L330.9 438.1L333.4 442.4L333.5 446.6L330.9 448.7L329.7 450.9L328.3 455.2L327.4 459.5L326.6 461.6L324.6 463.7L322.3 465.2L318.0 464.8L313.7 464.5L309.5 464.3L305.2 463.9L304.8 463.7L300.9 462.6L296.6 460.7L295.4 459.5L292.4 455.2L292.4 455.2L290.6 450.9L289.4 446.6L289.9 442.4L291.0 438.1L292.4 435.3L293.3 433.8L296.6 431.0L300.9 430.0L302.7 429.5Z"/>
<path fill="#f68a2c" fill-rule="evenodd" d="M489.2 288.1L489.8 288.3L493.5 289.5L497.7 291.0L502.0 292.4L502.6 292.6L506.3 293.9L510.6 295.9L512.3 296.9L510.6 299.8L509.7 301.1L506.3 303.5L505.1 305.4L502.0 309.3L501.7 309.7L497.7 312.7L493.5 314.0L493.4 314.0L489.2 317.5L486.4 318.3L484.9 318.9L482.6 318.3L480.6 317.4L477.6 314.0L476.4 312.5L474.9 309.7L473.6 305.4L472.9 301.1L473.1 296.9L476.4 293.2L477.1 292.6L480.6 290.3L484.9 288.5L486.8 288.3ZM536.3 294.3L540.5 292.7L544.8 293.6L549.1 295.2L551.7 296.9L549.1 298.4L544.8 301.0L544.6 301.1L540.5 302.6L536.3 301.3L536.0 301.1L532.2 296.9ZM467.8 326.3L472.1 324.9L473.4 326.8L474.5 331.1L472.1 334.5L470.7 335.4L467.8 337.2L465.0 339.7L464.2 343.9L463.9 348.2L463.5 350.9L463.3 352.5L462.2 356.8L460.7 361.0L459.2 364.1L458.5 365.3L456.3 369.6L455.0 372.5L454.4 373.9L452.7 378.2L450.8 382.4L451.5 386.7L454.2 391.0L455.0 392.3L457.0 395.3L459.1 399.6L459.2 400.1L459.9 403.8L459.8 408.1L459.6 412.4L459.6 416.7L459.2 418.3L458.7 421.0L456.8 425.2L455.0 428.7L454.6 429.5L452.3 433.8L450.7 436.4L449.7 438.1L446.4 441.4L445.1 442.4L442.1 444.1L437.8 445.8L434.7 446.6L433.6 446.9L429.3 447.9L425.0 449.1L420.7 450.6L419.8 450.9L416.4 452.6L412.5 455.2L412.2 455.6L408.3 459.5L407.9 459.8L404.0 463.7L403.6 464.1L399.3 466.7L395.0 466.7L390.8 466.7L386.5 466.7L382.7 468.0L382.2 468.2L378.3 472.3L377.9 472.8L373.7 476.3L373.2 476.6L369.4 478.6L365.1 479.7L360.8 479.7L356.5 479.7L352.3 479.7L348.0 478.5L346.8 476.6L345.1 472.3L346.2 468.0L348.0 464.5L348.3 463.7L349.8 459.5L350.8 455.2L352.3 452.6L353.0 450.9L355.2 446.6L356.3 442.4L356.5 438.2L356.5 438.1L357.3 433.8L358.5 429.5L360.2 425.2L360.8 424.0L362.7 421.0L362.8 416.7L360.8 413.9L359.6 412.4L356.5 409.2L355.3 408.1L352.3 405.9L348.5 403.8L349.8 399.6L352.3 398.7L356.5 397.0L360.8 395.3L360.8 395.3L365.1 393.5L368.8 391.0L369.4 390.5L372.3 386.7L373.7 383.9L374.2 382.4L375.7 378.2L377.1 373.9L377.9 371.4L378.5 369.6L381.2 365.3L382.2 364.5L386.5 362.1L389.1 361.0L390.8 360.4L395.0 359.1L399.3 357.9L403.6 357.1L405.2 356.8L407.9 356.2L412.2 355.2L416.4 354.0L420.5 352.5L420.7 352.4L425.0 349.2L426.0 348.2L429.2 343.9L429.3 343.8L432.4 339.7L433.6 338.1L437.7 335.4L437.8 335.3L442.1 335.3L446.4 335.3L450.7 335.3L455.0 335.1L459.2 334.4L463.0 331.1L463.5 330.6L467.3 326.8ZM296.6 432.3L300.9 431.4L305.2 430.4L309.5 430.1L313.7 429.9L318.0 430.9L322.3 432.7L324.3 433.8L326.6 436.2L328.0 438.1L329.4 442.4L329.4 446.6L327.3 450.9L326.6 453.1L325.7 455.2L323.2 459.5L322.3 460.4L318.0 460.8L313.7 461.1L309.5 461.4L305.2 461.3L300.9 459.7L300.4 459.5L296.6 457.6L294.7 455.2L292.5 450.9L292.4 450.6L291.0 446.6L291.3 442.4L292.3 438.1L292.4 438.1L294.8 433.8ZM343.7 493.5L348.0 492.8L349.9 493.7L352.3 494.9L355.9 498.0L356.5 498.7L359.7 502.3L360.8 505.7L361.1 506.5L360.8 506.7L356.5 510.0L355.3 510.8L352.3 512.6L348.0 514.2L343.7 513.4L339.4 512.4L335.1 511.2L334.0 510.8L330.9 509.5L327.9 506.5L329.3 502.3L330.9 499.1L332.1 498.0L335.1 495.6L339.4 494.3L342.5 493.7ZM382.2 501.9L382.6 502.3L385.2 506.5L382.2 508.1L377.9 506.8L377.3 506.5L377.9 505.8L381.4 502.3ZM313.7 520.9L318.0 523.1L318.2 523.7L318.0 523.9L313.7 525.6L313.1 523.7Z"/>
<path fill="#f06e2a" fill-rule="evenodd" d="M484.9 291.7L489.2 291.0L493.5 292.4L493.9 292.6L497.7 293.9L502.0 295.3L506.2 296.9L504.3 301.1L502.4 305.4L502.0 305.9L499.2 309.7L497.7 310.8L493.5 311.8L489.2 312.4L484.9 311.5L482.7 309.7L480.6 306.9L479.7 305.4L477.9 301.1L477.6 296.9L480.6 294.3L483.2 292.6ZM540.5 296.3L542.1 296.9L540.5 297.8L539.1 296.9ZM433.6 343.9L437.8 341.0L442.1 341.0L446.4 341.0L450.7 341.0L455.0 342.2L456.7 343.9L459.1 348.2L458.6 352.5L456.8 356.8L455.0 360.0L454.1 361.0L451.1 365.3L450.7 366.2L449.3 369.6L447.9 373.9L446.4 378.2L446.4 378.3L445.0 382.4L445.4 386.7L446.4 389.0L447.3 391.0L449.4 395.3L450.7 397.6L451.8 399.6L453.4 403.8L454.1 408.1L454.6 412.4L455.0 416.1L455.0 416.7L455.0 416.9L454.3 421.0L452.2 425.2L450.7 428.1L450.0 429.5L447.8 433.8L446.4 436.0L444.9 438.1L442.1 440.3L438.5 442.4L437.8 442.7L433.6 443.9L429.3 444.6L425.0 445.5L420.7 446.5L420.1 446.6L416.4 447.5L412.2 448.4L407.9 450.5L407.4 450.9L403.9 455.2L403.6 455.5L399.3 458.0L395.0 458.0L390.8 458.0L386.5 458.0L382.4 459.5L382.2 459.5L378.0 463.7L377.9 463.8L373.7 468.0L373.7 468.1L369.4 472.0L368.7 472.3L365.1 473.6L360.8 472.3L360.7 472.3L356.7 468.0L356.5 467.0L356.1 463.7L355.8 459.5L355.6 455.2L356.5 452.5L356.9 450.9L358.1 446.6L358.6 442.4L358.9 438.1L359.8 433.8L360.8 430.8L361.3 429.5L363.4 425.2L365.1 422.8L367.3 421.0L368.0 416.7L365.1 412.6L365.0 412.4L361.6 408.1L360.8 407.3L356.7 403.8L358.7 399.6L360.8 398.7L365.1 397.0L368.4 395.3L369.4 394.7L373.1 391.0L373.7 390.2L375.6 386.7L377.1 382.4L377.9 380.0L378.6 378.2L380.0 373.9L381.4 369.6L382.2 368.3L384.9 365.3L386.5 364.4L390.8 362.6L394.9 361.0L395.0 361.0L399.3 359.7L403.6 358.9L407.9 358.2L412.2 357.4L414.9 356.8L416.4 356.4L420.7 355.2L425.0 353.3L426.2 352.5L429.3 349.5L430.3 348.2L433.5 343.9ZM296.6 433.6L300.9 432.8L305.2 432.1L309.5 431.7L313.7 431.4L318.0 432.6L320.6 433.8L322.3 435.2L325.1 438.1L326.5 442.4L326.6 445.1L326.6 446.6L326.6 446.7L324.8 450.9L322.9 455.2L322.3 456.1L318.0 457.3L313.7 458.1L309.5 458.7L305.2 458.9L300.9 457.2L297.5 455.2L296.6 454.6L294.3 450.9L292.5 446.6L292.7 442.4L293.6 438.1L296.4 433.8ZM348.0 501.8L348.8 502.3L352.1 506.5L348.0 508.3L343.7 506.9L342.6 506.5L343.7 505.3L346.8 502.3Z"/>
<path fill="#e5532c" fill-rule="evenodd" d="M484.9 294.9L489.2 293.9L493.5 295.3L497.7 296.7L498.1 296.9L500.3 301.1L500.2 305.4L497.7 308.5L493.5 309.6L489.2 308.8L484.9 305.7L484.7 305.4L482.7 301.1L482.2 296.9ZM437.8 346.8L442.1 346.8L446.4 346.8L450.7 346.8L453.3 348.2L452.9 352.5L450.7 355.2L448.6 356.8L446.4 359.9L445.9 361.0L444.7 365.3L443.5 369.6L442.1 373.8L442.1 373.9L440.7 378.2L439.2 382.4L439.5 386.7L441.1 391.0L442.1 393.3L443.0 395.3L445.0 399.6L446.4 402.5L447.0 403.8L448.4 408.1L449.5 412.4L450.4 416.7L449.9 421.0L447.8 425.2L446.4 428.0L445.6 429.5L443.5 433.8L442.1 435.6L440.1 438.1L437.8 439.5L433.6 440.9L429.3 441.3L425.0 441.8L421.3 442.4L420.7 442.4L416.4 442.6L415.1 442.4L412.2 441.7L407.9 439.5L406.4 438.1L404.1 433.8L403.6 432.8L400.4 429.5L399.3 428.5L396.4 429.5L395.0 429.9L390.8 430.9L386.5 431.6L382.2 432.9L381.2 433.8L380.6 438.1L381.9 442.4L382.1 446.6L381.1 450.9L377.9 455.1L377.9 455.2L373.7 459.4L373.6 459.5L369.4 463.7L369.2 463.7L365.1 465.4L363.8 463.7L361.6 459.5L360.8 457.3L360.2 455.2L360.2 450.9L360.5 446.6L360.8 442.4L360.8 442.3L361.2 438.1L362.4 433.8L364.1 429.5L365.1 427.7L368.8 425.2L369.4 424.8L373.7 421.8L374.2 421.0L374.2 416.7L373.7 415.4L372.1 412.4L369.4 408.7L368.9 408.1L365.1 404.5L364.4 403.8L365.1 402.8L367.8 399.6L369.4 398.9L373.7 396.2L374.6 395.3L377.3 391.0L377.9 389.6L378.8 386.7L380.0 382.4L381.4 378.2L382.2 375.9L383.2 373.9L385.0 369.6L386.5 367.9L389.3 365.3L390.8 364.7L395.0 362.9L399.3 361.5L401.7 361.0L403.6 360.7L407.9 360.2L412.2 359.5L416.4 358.8L420.7 358.0L425.0 357.0L425.6 356.8L429.3 355.0L431.9 352.5L433.6 350.2L435.8 348.2ZM309.5 433.3L313.7 432.8L316.7 433.8L318.0 434.5L322.2 438.1L322.3 438.4L323.6 442.4L323.8 446.6L322.3 450.6L322.1 450.9L318.0 453.8L314.2 455.2L313.7 455.3L309.5 456.3L305.2 456.7L301.9 455.2L300.9 454.6L296.6 451.6L296.2 450.9L294.1 446.6L294.1 442.4L294.9 438.1L296.6 435.4L300.9 434.4L305.2 433.8L305.4 433.8Z"/>
<path fill="#d42a2a" fill-rule="evenodd" d="M489.2 296.8L489.5 296.9L493.5 300.4L494.5 301.1L497.7 303.8L498.1 305.4L497.7 305.9L493.5 306.7L490.4 305.4L489.2 302.7L488.5 301.1L488.9 296.9ZM420.7 360.8L425.0 360.6L429.3 360.4L433.6 359.6L436.2 361.0L437.8 363.5L438.3 365.3L437.8 368.7L437.7 369.6L436.0 373.9L434.3 378.2L433.6 380.0L432.3 382.4L432.0 386.7L433.6 390.2L433.9 391.0L435.8 395.3L437.8 398.6L438.2 399.6L440.5 403.8L442.1 406.8L442.7 408.1L444.5 412.4L445.9 416.7L445.6 421.0L443.4 425.2L442.1 427.9L441.3 429.5L439.1 433.8L437.8 435.3L433.6 437.7L429.3 438.0L427.6 438.1L425.0 438.2L420.7 438.4L418.5 438.1L416.4 437.4L412.8 433.8L412.2 432.6L410.6 429.5L408.5 425.2L407.9 424.1L406.3 421.0L403.6 416.8L403.4 416.7L399.3 415.2L395.6 416.7L395.0 417.0L390.8 419.7L389.1 421.0L386.5 422.2L382.2 421.8L381.6 421.0L380.5 416.7L379.8 412.4L378.7 408.1L377.9 406.0L376.8 403.8L377.9 400.9L378.4 399.6L380.7 395.3L381.6 391.0L382.1 386.7L382.2 386.1L383.4 382.4L385.5 378.2L386.5 375.9L387.5 373.9L389.3 369.6L390.8 368.3L394.0 365.3L395.0 364.9L399.3 363.3L403.6 362.5L407.9 362.1L412.2 361.7L416.4 361.1L417.6 361.0ZM365.1 433.4L369.4 432.1L370.9 433.8L373.7 437.0L374.3 438.1L377.9 441.8L378.3 442.4L378.8 446.6L377.9 448.3L375.4 450.9L373.7 452.4L369.4 455.1L368.2 455.2L365.1 455.7L364.9 455.2L363.3 450.9L362.7 446.6L362.9 442.4L363.6 438.1L364.9 433.8ZM296.6 437.4L300.9 436.4L305.2 436.0L309.5 435.3L313.7 434.5L318.0 437.0L319.3 438.1L320.7 442.4L320.8 446.6L318.0 450.0L316.7 450.9L313.7 452.4L309.5 453.6L305.2 454.3L300.9 451.7L299.8 450.9L296.6 448.6L295.6 446.6L295.4 442.4L296.2 438.1Z"/>
<path fill="#c21b2a" fill-rule="evenodd" d="M399.3 365.1L403.6 364.3L407.9 364.1L412.2 363.8L416.4 363.5L420.7 363.6L425.0 364.3L428.3 365.3L429.3 367.3L430.1 369.6L429.3 371.2L427.9 373.9L425.8 378.2L425.0 379.8L423.7 382.4L422.0 386.7L420.7 389.8L420.0 391.0L416.4 395.0L416.1 395.3L412.2 399.2L411.8 399.6L408.0 403.8L407.9 403.9L403.6 405.6L399.3 405.6L395.2 403.8L395.0 403.7L391.4 399.6L390.8 397.8L390.0 395.3L389.1 391.0L388.4 386.7L389.3 382.4L390.8 379.8L391.5 378.2L392.9 373.9L394.0 369.6L395.0 368.7L398.6 365.3ZM425.0 408.0L429.3 407.0L433.6 406.3L436.1 408.1L437.8 409.4L439.4 412.4L441.3 416.7L441.2 421.0L439.1 425.2L437.8 427.7L435.9 429.5L433.6 431.7L429.3 431.0L425.0 430.1L423.0 429.5L420.7 428.7L417.6 425.2L416.4 423.8L415.0 421.0L414.4 416.7L416.0 412.4L416.4 411.8L420.7 409.3L424.4 408.1ZM309.5 437.4L313.7 436.7L316.0 438.1L317.8 442.4L317.4 446.6L313.7 449.5L309.5 450.7L308.4 450.9L305.2 451.5L304.3 450.9L300.9 448.7L298.1 446.6L297.3 442.4L300.9 439.0L305.2 438.2L305.5 438.1ZM365.1 441.6L369.4 439.7L373.7 442.3L373.7 442.4L374.6 446.6L373.7 447.6L369.4 449.3L365.1 447.6L364.8 446.6L365.0 442.4Z"/>
<path fill="#a81c22" fill-rule="evenodd" d="M399.3 369.0L403.6 367.4L407.9 367.3L412.2 367.1L416.4 366.9L420.7 368.9L421.4 369.6L420.7 371.0L418.5 373.9L416.4 376.8L414.5 378.2L412.2 380.5L410.8 382.4L407.9 386.0L407.4 386.7L403.6 390.5L399.3 390.2L397.7 386.7L397.1 382.4L397.8 378.2L398.3 373.9L398.7 369.6ZM433.6 415.6L435.0 416.7L435.4 421.0L433.6 422.5L430.3 421.0L431.1 416.7ZM305.2 441.8L309.5 441.4L313.7 440.8L314.4 442.4L313.7 446.4L313.6 446.6L309.5 447.5L305.2 448.1L302.8 446.6L303.8 442.4Z"/>
<g fill="none" stroke="#3a3a3a" stroke-linejoin="round" stroke-linecap="round"><polyline points="263.1,256.3 264.8,256.2 266.6,256.5 268.3,256.7 270.5,257.4 272.6,258.1 274.8,258.1 276.8,258.8 278.9,259.1 281.0,259.7 281.4,261.8 281.5,263.9 282.6,266.6 284.4,266.9 285.7,268.3 287.4,268.7 289.1,269.4 290.7,270.3 292.6,270.3 294.4,270.5 296.1,270.1 297.9,270.3 300.1,269.8 302.1,268.7 303.7,268.3 305.3,268.4 306.9,268.2 308.5,267.6 310.6,268.2 312.7,268.1 314.8,268.4 316.6,268.3 318.4,268.2 320.1,268.7 322.0,270.1 324.3,270.8 325.8,271.7 327.6,271.2 329.1,271.8 330.7,272.4 332.3,275.0 333.9,275.5 335.5,276.3 337.0,277.1 339.1,277.0 341.2,277.3 343.3,277.1 344.9,277.8 346.6,278.1 348.2,278.6 350.0,278.5" stroke-width="1.1"/><polygon points="340.7,228.0 340.3,229.7 338.9,230.8 338.1,232.2 336.5,233.4 335.1,234.9 333.8,236.5 331.8,237.1 330.1,238.2 328.6,239.6 326.7,240.4 324.8,241.3 323.3,242.8 321.6,243.4 320.5,244.7 319.3,246.0 318.0,247.0 316.3,247.7 314.9,248.7 313.8,250.2 312.5,252.1 310.6,253.4 308.6,254.5 306.4,254.9 304.9,255.6 303.2,255.7 301.5,255.3 300.0,256.0 298.1,256.2 296.2,256.6 294.2,256.7 295.9,257.7 297.9,258.1 299.6,258.7 301.4,258.7 303.2,258.8 305.0,258.5 306.8,258.3 308.5,257.4 310.2,256.8 312.2,256.7 313.8,255.7 315.2,254.1 316.9,252.8 318.9,251.5 321.2,250.7 322.8,250.2 324.5,249.8 326.0,248.8 327.5,248.1 329.0,247.2 330.7,246.7 332.1,245.4 333.8,244.9 335.2,243.8 337.0,243.3 338.7,242.8 340.2,241.7 341.8,241.1 342.6,239.2 344.0,238.4 345.5,237.5 345.3,235.6 346.2,234.0 346.5,232.2 347.2,230.1 347.0,228.0" stroke-width="1.1"/><polyline points="349.0,278.5 351.1,278.4 353.1,279.5 355.3,279.2 357.0,278.9 358.6,278.2 360.3,277.7 361.7,276.6 363.2,276.0 364.8,275.7 366.5,276.3 368.1,275.8 369.6,275.1 371.2,275.1 372.8,274.8 374.4,275.0 376.1,274.1 376.9,272.2 378.6,271.3 380.5,270.9 382.4,270.6 384.0,269.2 386.0,269.2 387.7,269.8 389.6,269.3 391.3,269.7 392.9,270.3 394.2,271.4 395.5,272.4 397.3,272.1 399.0,271.3 400.8,271.3 402.9,271.4 404.7,272.3 406.6,272.9 408.3,273.3 410.0,273.5 411.7,274.0 413.2,274.8 414.8,275.4 416.6,275.5 418.3,274.9 419.7,273.9 421.3,273.2 422.9,272.4 424.6,272.3 426.1,271.4 427.8,271.6 429.3,270.8 429.8,268.1 431.1,267.0 431.8,265.5 432.1,263.7 433.0,262.3 434.1,261.1 434.8,259.6 436.2,258.6 437.0,257.1" stroke-width="1.1"/><polyline points="406.6,272.9 405.5,274.2 404.5,275.6 404.4,277.6 403.6,279.0 401.7,280.0 401.5,281.8 400.7,283.3 399.6,284.6 398.7,286.1 397.6,287.4 396.5,288.7 397.8,289.8 399.3,290.6 400.8,291.4 402.9,291.1 405.0,290.9 407.1,290.3 408.9,290.6 410.6,291.3 412.4,291.9 414.1,291.2 415.4,290.0 416.6,288.7 418.7,289.0 420.8,288.7 422.9,289.3 424.3,290.4 426.3,290.1 427.6,291.6 429.3,291.9 430.9,292.5 432.1,293.7 433.5,294.6 433.7,296.7 434.2,298.8 434.6,300.9 433.2,301.9 431.4,301.9 429.6,301.1 428.2,299.8 426.1,299.9 424.0,300.0 421.9,299.8 420.1,300.6 418.3,301.0 416.3,300.8 414.5,301.4 412.9,301.8 411.4,302.2 409.9,303.1 408.2,303.0 406.6,303.8 405.0,304.7 403.9,306.2 402.3,307.4 401.1,309.0 399.7,310.4 398.0,310.3 396.3,310.5 394.7,311.1 393.0,310.7 391.3,310.9 389.5,311.3 387.9,312.3 386.0,312.5 384.6,314.4 382.8,316.0" stroke-width="1.1"/><polyline points="363.8,316.0 365.5,315.2 367.0,314.1 368.9,314.1 370.6,314.9 372.2,315.7 374.3,316.6 376.5,317.4 378.3,316.9 380.3,317.4 382.0,316.7 383.9,316.5" stroke-width="1.1"/><polyline points="436.0,257.6 437.3,256.5 438.6,255.4 440.2,254.8 441.3,253.4 441.7,251.6 441.3,249.7 439.5,249.2 437.9,247.9 436.0,247.5 436.0,246.5 437.8,246.1 439.3,245.2 440.5,243.6 442.3,243.3 444.2,243.6 446.0,242.5 447.9,242.9 449.7,242.3 451.5,241.7 453.4,241.8 455.2,241.4 457.1,241.2 459.0,241.3 460.8,241.2 462.7,241.2 464.5,240.7 466.0,241.5 467.6,241.9 469.3,242.0 470.9,242.3 472.7,242.9 474.5,243.6 476.4,244.0 478.3,244.4 480.0,245.1 481.8,244.9 483.5,245.4 484.7,246.7 486.1,247.6 487.8,248.1 489.1,249.7 489.6,251.8 490.9,253.4 491.9,255.0 493.0,256.6 493.9,258.3 495.2,259.7 495.9,261.3 496.7,262.8 497.4,264.3 498.9,265.4 499.4,267.1 500.5,268.7 501.0,270.5 501.5,272.4 503.1,272.9 504.8,273.3 506.4,273.9 507.8,275.0 509.5,275.3 511.1,276.0 512.8,276.3 514.6,276.2 516.3,276.6 517.6,277.9 519.3,278.6 520.9,279.5 522.7,279.9 524.0,281.3" stroke-width="1.1"/><polyline points="449.7,242.8 449.2,244.4 448.2,245.7 447.0,246.9 446.6,248.6 448.5,248.9 449.9,250.4 451.8,250.7 453.6,251.0 455.3,250.2 457.1,250.7 457.7,252.3 458.2,254.0 459.2,255.5 460.1,257.7 461.4,259.7 463.5,259.4 465.6,259.7 467.7,259.7 469.5,259.4 471.4,259.6 473.3,259.5 475.1,259.2 476.8,258.6 478.5,257.8 480.4,257.6 482.1,258.3 483.4,259.4 484.8,260.5 486.0,261.8 487.8,262.3 486.6,263.4 485.6,264.7 484.6,266.0 483.6,267.6 482.3,269.1 481.6,270.9 480.4,272.4 480.0,274.2 480.3,275.9 480.4,277.7 478.6,278.7 477.4,280.3 476.1,281.9 475.8,283.8 474.6,285.4 474.0,287.2 471.9,285.0 469.9,286.4 467.7,287.2 465.7,287.8 464.1,289.1 462.4,290.3 461.4,291.7 459.5,292.2 458.7,293.9 457.1,294.6 458.9,295.0 460.2,296.3 462.1,296.5 463.5,297.7 462.2,299.7 461.4,301.9 459.9,303.2 458.1,303.8 456.4,304.6 454.6,305.3 452.9,306.2 451.3,307.2 449.7,308.3 450.9,309.9 452.2,311.4 454.0,312.5 454.3,314.3 455.0,316.0" stroke-width="1.1"/><polyline points="462.4,303.0 464.5,303.4 466.6,303.7 468.7,304.1 470.1,305.6 470.9,307.5 471.9,309.3 473.4,310.0 475.1,309.9 476.8,309.8 478.3,310.4 480.0,310.4 481.4,311.5 482.9,312.3 484.6,312.5 486.4,312.9 488.2,313.6 490.2,313.2 492.0,313.6 493.7,314.7 495.2,316.0" stroke-width="1.1"/><polyline points="523.0,280.8 524.6,281.0 526.2,281.6 527.8,281.9 528.4,283.7 528.2,285.7 529.0,287.4 529.3,289.3 531.5,291.4 533.3,291.2 535.1,291.8 537.0,291.7 538.8,291.4 540.8,291.3 542.5,290.5 544.3,289.5 546.2,289.3 547.8,288.7 549.3,288.0 551.1,288.0 552.6,287.2 554.0,286.3 555.8,286.7 557.2,285.6 558.9,285.6 560.6,286.2 562.1,287.2 562.5,289.3 563.1,291.4 561.9,292.6 561.0,294.0 559.9,295.3 558.9,296.7 558.0,298.1 557.1,299.6 556.8,301.4 555.7,302.7 554.7,304.1 554.3,305.8 553.0,307.0 552.4,308.7 551.6,310.2 550.5,311.5 550.0,313.1 548.7,314.3 548.4,316.0" stroke-width="1.1"/><polyline points="579.0,316.0 579.9,314.4 581.1,313.1 582.5,312.0 583.8,310.7 585.5,309.9 586.4,308.3 587.3,306.8 588.5,305.6 589.8,304.5 591.5,303.7 592.1,301.9 593.5,301.0 594.8,299.8 595.6,298.2 596.9,297.0 598.3,295.8 598.7,294.0 600.3,292.9 601.2,291.4 602.3,290.1 603.8,289.2 605.5,288.8 607.0,288.1 608.2,286.8 609.9,286.3 611.0,285.0" stroke-width="1.1"/><polyline points="263.1,335.1 264.9,335.5 266.8,334.8 268.6,335.6 270.5,335.6 272.4,335.6 274.2,335.9 276.0,336.2 277.8,336.7 279.7,337.6 281.0,339.3 282.6,340.1 284.4,340.2 286.0,341.1 287.8,341.0 289.5,341.4 291.1,342.0 292.9,341.4 294.5,341.9 296.1,342.8 297.8,342.3 299.5,342.3 301.1,343.0 303.0,344.3 305.3,344.6 307.2,344.0 308.9,342.9 310.7,342.1 312.7,341.9 314.2,341.2 316.0,341.1 317.4,339.9 319.0,339.5 320.6,338.9 322.1,338.0 323.8,337.9 325.4,337.2 327.1,337.6 328.9,337.3 330.6,337.0 332.4,337.2 334.1,337.1 335.9,337.2 337.6,336.8 339.3,337.4 341.0,337.0 342.7,337.0 344.4,336.7 346.1,335.7 348.1,335.6 350.0,335.1" stroke-width="1.1"/><polyline points="263.1,360.4 264.8,361.5 266.5,362.6 268.3,363.6 269.6,365.1 270.5,366.8 272.1,367.1 273.8,367.5 275.1,368.8 276.8,368.9 278.9,366.8 280.5,366.4 282.1,365.9 283.8,365.7 285.2,364.7 286.8,364.4 288.5,364.6 290.0,363.9 291.6,363.6 293.4,363.7 295.2,363.6 296.9,363.1 297.2,365.1 298.4,366.8 296.6,368.0 294.9,369.2 293.7,371.0 292.6,372.6 291.6,374.2 292.5,375.6 292.6,377.3 294.3,378.0 296.2,378.1 297.5,379.7 299.5,379.7 301.1,380.5 303.0,380.0 304.9,379.9 306.6,378.9 308.5,378.4 310.7,378.1 312.7,377.3 312.5,375.3 313.0,373.5 312.9,371.5 313.3,369.7 313.8,367.8 315.4,366.4 317.2,365.3 319.0,364.1 320.6,364.9 322.2,365.7 322.2,367.9 321.2,369.9 319.9,371.4 319.0,373.1 320.8,373.5 322.2,374.6 323.9,375.4 325.4,376.3 327.0,376.7 328.4,377.5 330.2,377.1 331.7,377.9 333.3,378.0 334.9,377.9 336.5,377.0 338.1,377.3 339.4,375.9 340.2,374.2 341.1,372.8 342.6,371.8 343.7,370.5 344.4,368.9 346.1,367.9 347.4,366.5 348.8,365.1 350.0,363.6" stroke-width="1.1"/><polyline points="263.1,372.0 264.5,372.8 266.1,373.2 267.5,374.1 269.0,374.7 270.5,375.2 272.3,375.6 274.0,376.1 275.5,377.3 277.4,377.4 278.9,378.4 280.5,379.6 281.9,381.0 283.1,382.6 283.8,384.2 285.2,385.3 285.4,387.2 286.9,388.3 287.4,390.0 287.2,392.1 286.2,394.1 286.3,396.3 284.3,397.0 282.6,398.1 281.0,399.5 280.1,401.3 278.9,403.0" stroke-width="1.1"/><polyline points="301.1,380.5 302.5,381.9 304.3,382.5 306.1,383.3 307.4,384.7 307.6,386.3 308.2,387.9 308.1,389.5 308.5,391.1 309.4,392.5 310.9,393.5 311.4,395.2 312.7,396.3 314.1,397.4 315.6,398.3 316.9,399.5 317.8,401.3 319.0,403.0" stroke-width="1.1"/><polyline points="325.4,376.3 325.2,378.4 325.5,380.5 325.4,382.6 323.4,383.3 321.2,383.7 320.3,385.4 319.3,387.0 319.0,388.9 319.2,390.5 319.6,392.1 319.3,393.8 320.1,395.3 319.4,397.4 319.0,399.5 319.8,401.4 321.2,403.0" stroke-width="1.1"/><polyline points="325.4,383.7 326.7,384.8 328.3,385.1 329.8,385.9 331.5,385.9 332.8,387.0 334.3,387.4 335.9,387.9 335.7,389.8 336.4,391.6 336.8,393.4 337.0,395.3 336.3,397.4 335.9,399.5 333.9,400.2 331.7,400.5 329.6,400.6" stroke-width="1.1"/><polyline points="362.7,315.0 362.0,316.5 361.4,318.1 361.3,319.8 360.6,321.3 361.9,322.4 363.4,323.2 364.8,324.2 365.9,325.6 364.3,326.2 363.4,327.7 361.8,328.3 360.9,329.8 359.6,330.8 358.2,332.0 356.3,332.3 354.6,332.8 353.2,334.0 351.3,335.3 349.0,335.6" stroke-width="1.1"/><polyline points="371.2,315.0 372.9,315.9 374.6,316.4 376.5,316.6 378.4,316.7 380.3,316.5 382.0,315.3 383.9,315.5" stroke-width="1.1"/><polyline points="349.0,363.6 351.0,362.9 353.1,362.4 355.3,362.5 357.5,362.4 359.6,361.5 361.4,360.6 363.1,359.4 364.8,358.3 366.7,357.4 368.4,356.4 370.1,355.1 371.8,354.7 373.6,354.9 375.4,354.6 377.1,354.4 378.7,353.4 380.5,353.7 382.1,352.8 383.9,353.0 385.7,353.7 387.0,355.1 386.7,353.2 385.4,351.7 384.9,349.9 383.9,347.7 382.8,345.6 383.5,343.9 384.6,342.5 386.0,341.4 388.3,341.1 390.2,339.8 391.1,341.3 391.3,343.1 392.3,344.6 394.1,344.0 395.8,343.1 397.6,342.5 399.1,341.5 400.8,341.0 402.3,340.1 403.9,339.3 405.5,338.7 407.0,337.8 408.7,337.8 410.3,337.2 412.4,336.8 414.5,336.9 416.6,336.7 417.9,338.4 419.2,340.0 420.8,341.4 422.1,343.4 422.9,345.6 424.3,346.7 425.9,347.5 427.2,348.8 428.7,347.9 429.7,346.3 431.4,345.6 431.1,343.5 430.8,341.4 430.3,339.3 433.5,339.3 435.1,341.0 437.0,342.5" stroke-width="1.1"/><polyline points="387.0,355.1 386.5,357.2 386.0,359.4 386.7,361.7 388.1,363.6 386.9,364.9 385.2,365.8 383.9,367.0 383.3,369.0 381.7,369.9 381.0,371.6 380.7,373.4 380.7,375.2 380.9,377.0 381.8,378.7 381.7,380.5 381.4,382.2 380.9,383.7 380.0,385.2 379.6,386.8 378.9,388.3 378.8,390.1 378.4,391.7 377.5,393.2 376.8,395.2 375.3,396.7 374.4,398.5 373.8,400.1 372.4,401.3 372.2,403.0" stroke-width="1.1"/><polyline points="359.6,361.5 357.6,362.9 355.3,363.6 355.3,365.5 354.5,367.3 354.7,369.2 354.3,371.0 353.5,372.8 354.2,374.8 353.7,376.6 353.2,378.4 353.1,380.1 353.4,381.9 353.1,383.7 353.0,385.4 352.5,387.1 352.7,388.9 352.5,390.7 352.8,392.5 353.5,394.2 353.7,395.9 354.1,397.7 353.8,399.5 353.5,401.3 353.2,403.0" stroke-width="1.1"/><polyline points="397.1,359.4 399.0,359.7 400.4,361.2 402.0,362.1 403.9,362.5 406.0,361.7 408.2,361.5 409.0,363.1 409.3,364.9 410.9,366.1 411.3,367.8 409.5,368.5 408.2,369.9 409.6,370.8 410.9,371.7 412.8,371.4 413.9,372.9 415.6,373.1 416.3,371.5 417.9,370.8 418.9,369.5 419.7,368.0 420.8,366.8 422.8,365.8 425.1,365.7 426.9,365.0 428.2,363.6 429.5,362.5 430.1,360.9 431.5,360.0 432.7,358.8 433.5,357.3 435.2,356.2 437.0,355.1" stroke-width="1.1"/><polyline points="415.6,373.1 416.9,374.9 418.7,376.3 420.9,376.1 422.9,375.2 424.4,376.9 426.1,378.4 427.3,380.4 428.2,382.6 429.9,382.0 431.6,381.4 433.4,381.2 435.3,381.1 437.0,380.5" stroke-width="1.1"/><polyline points="415.6,373.1 414.6,374.7 412.9,375.7 411.6,377.1 410.3,378.4 408.4,378.9 406.8,379.9 405.4,381.3 403.3,381.4 401.8,382.6 401.0,384.5 399.9,386.2 398.7,387.9 397.8,389.4 396.4,390.6 395.5,392.1 394.9,393.9 394.3,395.7 393.4,397.4 393.2,399.4 391.9,401.1 391.3,403.0" stroke-width="1.1"/><polyline points="377.5,388.9 379.4,388.9 381.2,389.4 383.1,389.6 384.9,390.0 386.6,390.3 388.2,390.9 390.0,390.4 391.6,391.4 393.4,391.1 394.1,392.9 395.5,394.2 397.5,393.5 399.7,393.5 401.8,393.2" stroke-width="1.1"/><polyline points="412.4,403.0 413.9,401.8 415.5,400.7 417.3,400.1 419.0,399.2 420.8,398.5 422.7,398.3 424.1,397.0 425.8,396.2 427.4,395.5 429.3,395.3 431.0,395.0 432.2,393.6 434.1,393.8 435.4,392.5 437.0,392.1" stroke-width="1.1"/><polyline points="453.4,315.0 454.6,316.9 455.0,319.2 456.9,319.3 458.7,320.1 460.6,320.0 462.4,320.3 463.0,321.8 463.4,323.4 464.7,324.6 465.1,326.1 465.6,327.7 467.7,328.2 469.5,328.5 470.9,329.9 472.7,330.1 474.4,330.9 476.1,331.4 477.3,332.8 478.2,334.5 479.7,335.6 480.0,337.7 481.6,338.8 482.5,340.4 483.4,342.0 483.3,343.9 484.4,345.4 485.0,347.2 485.7,348.8" stroke-width="1.1"/><polyline points="436.0,342.5 437.5,341.3 439.4,340.7 440.8,339.4 442.3,338.2 444.0,337.6 445.6,336.6 447.5,336.7 449.1,335.6 450.8,335.1 452.3,334.1 454.2,334.0 455.7,332.8 457.5,332.6 459.2,331.9 460.7,330.7 462.8,330.8 464.4,329.8 466.0,329.0 467.7,328.2" stroke-width="1.1"/><polyline points="496.2,315.0 496.2,317.1 497.4,318.2 498.9,319.1 500.4,319.9 501.4,321.2 502.6,322.4 504.5,321.9 506.0,320.6 507.8,319.8 508.6,321.2 509.8,322.3 510.4,323.8 511.4,325.2 512.1,326.6 514.0,325.2 516.3,324.5 518.2,324.0 520.1,323.6 522.1,324.2 524.0,323.5" stroke-width="1.1"/><polyline points="473.0,359.4 474.6,358.6 476.1,357.5 477.6,356.5 479.1,355.5 480.4,354.1 481.4,352.7 482.8,351.7 484.3,350.8 485.7,349.9 487.2,349.0 488.2,347.6 489.8,347.0 490.9,345.6 492.1,344.2 494.0,343.9 495.2,342.5 496.6,343.4 497.8,344.5 499.4,345.1 501.6,345.1 503.6,346.2 505.3,345.6 506.8,344.6 507.4,342.7 509.1,341.5 509.9,339.8 511.6,339.4 513.1,338.6 514.8,338.2 516.3,337.2 518.0,336.5 519.3,335.3 520.5,334.0 522.2,333.2 524.0,333.0" stroke-width="1.1"/><polyline points="524.0,339.3 522.7,340.5 522.0,342.2 520.8,343.4 519.5,344.6 518.5,346.4 517.8,348.4 516.3,349.9 515.1,351.0 513.8,352.0 512.4,353.0 511.0,353.8 509.9,355.1 508.2,356.1 506.4,357.1 504.4,357.4 502.6,358.3 501.6,360.1 500.5,361.9 499.4,363.6 500.1,365.2 501.5,366.1 502.3,367.6 503.9,368.4 504.7,369.9 505.7,371.2 506.8,372.4 507.9,373.6 508.9,375.0 509.9,376.3 510.4,378.0 511.9,379.1 512.0,381.0 512.9,382.5 514.2,383.7 515.3,385.0 515.3,386.7 516.2,388.1 517.0,389.5 517.3,391.1 517.0,392.8 518.2,394.4 518.2,396.1 518.2,397.8 518.4,399.5 517.2,401.2 516.3,403.0" stroke-width="1.1"/><polyline points="495.2,375.2 496.7,374.5 498.3,373.8 500.1,373.7 501.5,372.6 503.7,372.7 505.7,371.7 507.8,371.5" stroke-width="1.1"/><polyline points="473.0,359.4 471.3,359.8 469.5,359.6 467.7,359.9 465.8,360.0 464.2,361.0 462.4,361.5 460.4,362.1 458.8,363.5 457.1,364.7 455.3,365.2 453.7,366.3 451.8,366.8 450.0,366.8 448.3,367.3 446.6,367.8 447.5,366.3 448.8,365.1 449.7,363.6 449.2,361.5 448.7,359.4 449.9,358.3 451.2,357.3 451.9,355.7 452.5,354.1 453.6,352.9 455.0,352.0 453.3,351.1 451.8,349.9 450.2,351.0 448.2,351.0 446.6,352.0 445.0,353.3 443.3,354.5 441.3,355.1 439.6,355.9 437.7,356.4 436.0,357.3" stroke-width="1.3"/><polyline points="436.0,377.3 437.6,376.6 439.1,375.6 440.7,374.9 442.3,374.2 444.2,375.0 445.7,376.6 447.6,377.3 449.5,377.5 451.2,378.1 452.9,379.0 454.5,379.9 456.6,379.5 458.2,380.5 457.6,382.8 456.1,384.7 454.7,385.8 453.0,385.8 451.3,386.1 449.6,386.4 448.2,387.3 446.6,387.9 444.9,388.6 443.1,388.9 441.3,388.9 439.8,389.7 438.9,391.4 437.4,392.2 436.0,393.2" stroke-width="1.3"/><polyline points="531.5,315.0 531.5,317.1 532.1,319.2 532.5,321.3 532.3,323.0 533.5,324.4 533.2,326.1 533.6,327.7 532.3,329.2 531.5,330.8 531.3,332.9 529.7,334.2 529.3,336.1" stroke-width="1.1"/><polyline points="523.0,322.4 524.7,323.1 525.7,324.7 527.2,325.6 528.9,326.7 530.9,327.3 532.5,328.7" stroke-width="1.1"/><polyline points="278.9,402.0 279.0,404.2 280.0,406.2 278.3,406.7 276.6,406.3 275.0,407.3 273.2,407.1 271.5,407.3 269.4,409.4 270.8,410.4 272.4,411.1 273.2,412.8 274.7,413.6 276.8,415.7 274.5,416.3 272.6,417.8 271.0,419.1 269.0,419.9 267.3,421.0 267.0,422.7 266.2,424.2 264.1,423.1 262.0,422.1" stroke-width="1.1"/><polyline points="283.1,409.4 284.8,408.9 286.7,408.8 288.4,408.3 289.7,409.5 290.6,411.1 291.6,412.6 293.4,413.3 295.3,413.6 297.1,414.2 299.0,414.7 299.7,416.2 300.2,417.8 300.2,419.5 301.1,421.0 303.3,420.8 305.3,421.9 307.4,422.1 309.0,421.2 311.0,421.4 312.7,420.5 312.8,418.5 313.1,416.5 313.2,414.5 313.8,412.6 315.5,411.8 317.2,411.1 319.0,410.5 319.7,408.9 320.0,407.2 319.9,405.4 319.9,403.7 320.1,402.0" stroke-width="1.1"/><polyline points="312.7,420.5 314.4,420.6 316.1,421.2 317.8,421.4 319.5,421.6 321.2,422.1 322.8,422.5 324.4,422.9 326.1,423.2 327.5,424.2 329.2,424.9 330.7,425.9 332.4,426.4 334.3,426.4 335.9,427.4 337.6,428.0 339.1,429.0 340.8,429.4 342.3,430.5 343.6,431.8 345.2,432.4 346.9,433.0 348.3,434.1 350.0,434.7" stroke-width="1.1"/><polyline points="335.9,427.4 335.7,429.1 334.4,430.4 334.0,432.0 333.8,433.7 332.7,435.2 330.7,435.4 329.8,437.2 328.2,437.9 326.9,439.0 325.4,440.0 324.1,441.5 322.8,443.1 321.2,444.3 319.5,443.7 317.8,443.4 316.1,442.8 314.3,443.0 312.7,442.1 311.3,443.5 310.7,445.4 309.9,447.2 308.5,448.5 309.8,450.0 311.2,451.4 312.7,452.7 313.4,455.0 314.8,456.9 316.9,456.6 319.1,456.7 321.2,456.9 323.1,455.5 325.4,454.8 327.5,453.7 329.6,452.7 331.3,453.0 332.8,453.5 334.4,453.9 335.9,454.8 337.1,456.5 338.6,457.8 340.2,459.0 342.0,459.7 343.3,461.2 343.4,462.9 343.3,464.6 344.1,466.2 343.8,468.0 344.4,469.6 343.5,471.1 343.2,473.0 341.5,474.1 341.2,475.9 341.9,477.7 342.4,479.5 343.3,481.2 345.1,480.7 346.5,479.3 348.3,478.9 350.0,478.1" stroke-width="1.1"/><polyline points="314.8,456.9 314.1,458.7 312.7,460.1 314.0,461.3 315.3,462.5 316.9,463.3 315.5,464.3 313.7,464.3 312.0,464.5 310.6,465.4 309.0,465.0 307.3,464.8 306.0,463.3 304.3,463.3 303.0,462.3 301.9,460.9 300.6,459.9 299.1,459.1 297.9,458.0 296.2,458.6 294.8,459.7 293.7,461.2 293.1,463.5 291.6,465.4 290.4,467.4 288.4,468.6 287.7,470.4 288.0,472.3 288.2,474.1 287.4,475.9 285.6,476.0 284.1,476.8 282.5,477.3 281.0,478.1 279.5,477.3 278.5,475.9 277.0,475.2 276.2,473.5 274.7,472.8 273.7,471.5 273.0,470.0 271.9,468.8 271.5,467.1 270.5,465.8 269.2,464.7 268.3,463.3 266.3,462.5 264.1,462.7 262.0,462.2" stroke-width="1.1"/><polyline points="296.9,467.5 295.9,469.7 294.7,471.7 296.0,472.9 296.7,474.6 297.9,475.9 298.5,477.4 298.2,479.1 298.5,480.7 299.0,482.3 300.2,483.6 301.1,485.1 302.1,486.5 303.1,488.3 304.3,490.0" stroke-width="1.1"/><polyline points="309.5,490.0 311.5,489.8 313.2,488.8 314.9,487.7 316.9,487.6 318.7,487.1 320.4,486.5 321.9,485.5 323.7,485.0 325.4,484.4 327.2,484.5 329.0,485.0 330.7,485.5 332.1,484.7 333.6,484.1 335.2,483.6 336.4,482.5 338.1,482.3 339.7,481.4 341.6,481.0 343.0,479.5 344.8,478.8 346.5,478.1" stroke-width="1.1"/><polyline points="350.0,416.8 348.1,416.5 346.3,416.9 344.4,416.8 345.2,418.8 344.8,421.1 345.5,423.1 346.9,424.8 348.6,426.3" stroke-width="1.1"/><polyline points="335.9,440.0 336.1,441.7 335.9,443.4 335.8,445.1 336.3,446.8 335.9,448.5 336.8,450.2 337.2,452.1 338.4,453.6 339.3,455.2 340.2,456.9" stroke-width="1.1"/><polyline points="338.1,444.3 339.3,442.9 341.1,442.4 342.6,441.4 343.6,439.9 345.0,438.8 346.5,437.9 348.2,437.1 350.0,436.9" stroke-width="1.1"/><polyline points="352.2,402.0 353.1,403.6 352.5,405.5 353.8,407.0 353.4,408.9 354.3,410.5 354.9,412.3 356.6,413.5 357.4,415.2 358.5,416.8 359.8,417.8 361.1,418.8 362.1,420.2 363.3,421.3 364.8,422.1 366.7,422.4 368.5,423.2 370.3,423.9 372.2,424.2 373.9,424.4 375.6,424.0 377.3,424.4 379.0,424.6 380.7,424.7 382.4,424.3 383.9,423.4 385.3,422.4 386.6,421.2 388.5,421.0 389.6,419.5 391.3,418.9" stroke-width="1.1"/><polyline points="391.3,418.9 392.4,420.5 393.4,422.1 395.1,422.1 396.4,423.5 398.0,424.1 399.7,424.2 399.4,426.1 400.1,427.9 400.9,429.7 400.8,431.6 401.0,433.8 400.4,435.9 399.7,437.9 399.7,439.7 400.4,441.3 400.8,443.0 401.0,444.8 401.8,446.4" stroke-width="1.1"/><polyline points="391.3,418.9 392.3,417.4 393.5,416.1 394.7,414.7 396.4,414.0 397.6,412.6 399.6,411.3 401.8,410.5 402.6,408.2 403.9,406.2 406.1,405.2 408.2,404.1 409.9,404.9 411.5,405.9 413.4,406.3 415.1,407.1 416.6,408.3 417.9,409.4 419.1,410.4 420.0,411.8 421.0,413.1 422.1,414.3 422.9,415.7 424.1,416.9 424.8,418.6 426.1,419.7 427.2,421.0 426.1,423.1 425.1,425.2 424.3,427.0 422.9,428.4 424.1,430.1 425.1,431.9 426.1,433.7 427.9,433.6 429.3,432.6" stroke-width="1.1"/><polyline points="403.9,406.2 402.3,405.0 401.4,403.1 399.7,402.0" stroke-width="1.1"/><polyline points="349.0,444.3 351.1,444.7 353.2,444.0 355.3,444.3 356.8,445.1 358.6,445.1 360.0,446.1 361.7,446.4 363.4,446.4 365.0,446.9 366.7,447.1 368.5,446.7 370.1,447.4 372.0,447.6 373.9,447.0 375.8,447.4 377.7,447.8 379.6,447.4 380.6,448.8 381.5,450.2 383.0,451.2 383.9,452.7 385.4,451.6 387.0,450.6 388.4,449.6 390.2,449.2 391.6,448.1 393.5,448.2 394.8,446.9 396.5,446.4 398.3,446.5 400.0,446.4 401.8,446.4 403.4,446.0 405.1,446.3 406.6,445.7 408.2,445.3 410.2,446.0 412.5,445.7 414.5,446.4 416.2,447.5 417.6,448.9 418.7,450.6 419.2,452.3 420.2,453.8 421.5,455.1 421.9,456.9 422.4,459.0 422.9,461.2" stroke-width="1.1"/><polyline points="383.9,452.7 383.7,454.4 384.1,456.1 384.2,457.8 384.5,459.5 384.9,461.2 383.7,462.7 382.6,464.2 381.9,466.0 380.7,467.5 380.5,469.2 380.9,470.9 381.3,472.5 382.0,474.2 381.7,475.9 382.1,477.5 383.2,479.0 383.2,480.8 383.9,482.3 383.1,484.2 383.3,486.1 382.6,488.0 382.8,490.0" stroke-width="1.1"/><polyline points="422.9,461.2 421.2,461.1 419.5,461.6 417.9,462.0 416.1,461.7 414.5,462.2 413.2,463.3 412.2,464.7 411.1,466.0 410.3,467.5 409.5,469.1 409.7,470.9 408.6,472.4 408.4,474.2 408.2,475.9 407.4,477.7 406.4,479.3 405.3,480.9 403.9,482.3 402.9,484.1 403.2,486.2 401.9,488.0 401.8,490.0" stroke-width="1.1"/><polyline points="422.9,461.2 424.1,462.8 425.4,464.4 427.2,465.4 429.3,465.5 431.4,465.1 433.5,465.4 435.4,464.6 437.0,463.3" stroke-width="1.1"/><polyline points="428.2,433.7 428.6,435.8 428.8,437.9 429.3,440.0 428.5,441.6 427.3,442.9 426.2,444.3 424.9,445.6 423.6,446.8 422.9,448.5 420.9,449.8 418.7,450.6" stroke-width="1.1"/><polyline points="349.0,478.1 350.8,478.1 352.4,477.3 354.2,477.2 355.8,476.3 357.5,475.9 358.4,477.4 359.2,479.0 359.5,480.8 360.6,482.3 360.7,484.3 359.7,486.1 359.6,488.0 359.6,490.0" stroke-width="1.1"/><polyline points="368.0,490.0 369.5,489.3 370.8,488.3 372.7,488.4 374.0,487.3 375.4,486.5 377.1,486.4 378.9,486.6 380.4,485.5 382.2,486.0 383.9,485.5" stroke-width="1.1"/><polyline points="437.0,471.7 436.2,473.3 434.9,474.3 433.3,475.3 432.4,476.7 431.4,478.1 431.0,479.8 429.5,480.9 428.8,482.5 427.7,483.8 427.2,485.5 425.5,486.8 424.6,488.7 422.9,490.0" stroke-width="2.0"/><polyline points="436.0,406.2 437.3,407.7 438.9,409.0 440.2,410.5 441.1,412.0 441.6,413.5 441.7,415.3 442.3,416.8 443.2,418.3 443.4,420.0 444.4,421.4 444.5,423.1 445.2,424.9 446.3,426.5 447.6,427.9 448.7,429.5 450.0,430.7 451.0,432.1 451.8,433.7 450.9,435.2 450.0,436.7 448.7,437.9" stroke-width="1.4"/><polygon points="488.8,414.7 491.0,414.9 493.0,414.1 495.2,415.7 493.2,416.7 490.9,416.8" stroke-width="1.1"/><polyline points="302.1,489.0 302.9,491.0 303.2,493.2 304.9,494.1 306.9,494.1 308.5,495.3 309.9,496.4 311.8,496.0 313.3,496.6 314.8,497.5 314.8,500.6 312.8,501.9 310.6,502.7 308.5,503.1 306.5,503.9 304.3,503.8 302.4,504.7 300.9,506.1 299.0,507.0 297.3,506.8 295.8,507.5 294.2,507.6 292.6,508.0 290.5,508.6 288.3,508.4 286.3,509.1 284.7,508.7 283.1,508.0 281.7,509.4 281.0,511.2 279.3,510.8 277.8,510.1 277.2,511.7 276.8,513.3 277.4,515.0 277.0,516.9 277.8,518.6 276.1,518.0 274.3,517.9 272.6,517.5 270.7,517.4 269.0,517.8 267.3,518.6 265.2,519.1 263.1,518.6" stroke-width="1.1"/><polyline points="281.0,511.2 282.0,512.8 284.0,513.5 284.7,515.4 286.3,516.5 286.8,518.2 287.6,519.8 288.7,521.2 289.5,522.8 291.2,523.2 293.0,523.4 294.9,523.3 296.5,524.3 298.2,525.0 300.0,524.9 301.1,526.5 302.3,528.0 303.0,529.8 304.3,531.3 302.8,532.3 301.0,532.6 299.3,533.2 297.9,534.4 297.0,536.4 296.9,538.7 298.7,539.1 300.3,540.0 301.8,540.9 303.4,541.8 304.9,543.0 306.4,543.9 307.6,545.1 307.8,546.9 308.8,548.3 310.2,549.4 311.3,550.7 311.7,552.4 312.6,553.9 314.0,554.9 315.6,555.7 316.5,557.2 317.6,558.5 318.6,559.9 320.1,560.8 321.2,562.0 322.4,563.0 323.6,564.2 324.0,565.9 325.2,567.1 326.6,568.0 327.5,569.3 328.2,570.9 328.9,572.5 329.7,574.1 330.6,575.6 331.7,577.0" stroke-width="1.1"/><polyline points="263.1,528.1 264.9,529.0 266.4,530.5 268.3,531.3 269.5,532.6 270.8,533.8 271.5,535.5 272.1,537.6 272.6,539.7 272.1,541.4 272.0,543.1 272.4,544.9 271.7,546.5 271.5,548.2 272.4,550.2 272.6,552.4 274.1,551.1 276.2,551.2 277.7,550.1 279.3,548.9 281.0,548.2 282.7,548.2 284.3,548.0 285.7,546.8 287.4,547.1 289.5,546.6 291.6,546.2 293.7,546.0 295.7,546.6 297.1,548.4 299.0,549.2 299.7,551.2 301.1,552.7 302.1,554.5 302.3,556.2 303.2,557.7 303.9,559.2 304.3,560.8 305.3,562.4 306.1,564.2 307.7,565.5 308.5,567.2 308.8,568.8 309.6,570.4 309.5,572.1 309.7,573.8 310.3,575.3 310.6,577.0" stroke-width="1.1"/><polyline points="311.7,534.4 313.6,533.2 314.8,531.3 315.5,529.7 316.5,528.2 317.1,526.4 318.0,524.9 319.9,524.4 321.6,523.7 323.3,522.8 325.2,521.3 327.5,520.7 329.6,519.7 331.7,518.6 333.9,518.4 335.9,517.5 337.6,517.7 339.1,516.8 340.7,516.5 342.3,516.5 344.3,516.9 346.2,517.4 348.2,517.6 350.0,518.6" stroke-width="1.5"/><polyline points="311.7,534.4 312.3,536.2 312.1,538.1 312.4,540.0 312.7,541.8 313.4,543.6 314.6,545.1 316.2,546.3 316.9,548.2 317.6,550.0 319.3,551.2 320.3,552.8 321.2,554.5 322.6,555.6 323.6,557.1 325.0,558.2 326.4,559.4 327.5,560.8 329.1,561.7 329.9,563.5 331.4,564.5 332.4,566.1 333.8,567.2 335.2,568.5 336.3,570.1 337.0,571.9 338.1,573.5" stroke-width="1.1"/><polyline points="310.6,503.8 312.4,504.1 313.9,505.3 315.6,505.7 317.4,506.2 319.0,507.0 319.5,508.7 319.2,510.6 320.1,512.2 321.2,513.8 322.6,515.0 324.0,516.2 325.4,517.5" stroke-width="1.1"/><polyline points="338.1,537.6 339.7,536.4 341.0,534.9 342.3,533.4 344.3,533.1 346.0,531.8 348.1,532.0 350.0,531.3" stroke-width="1.1"/><polyline points="350.0,546.0 348.1,546.0 346.1,546.4 344.2,546.2 342.3,546.0 341.1,544.4 339.7,543.0 338.1,541.8 337.7,539.7 338.1,537.6" stroke-width="1.1"/><polyline points="343.3,565.1 344.2,566.6 345.1,568.2 345.3,570.1 346.5,571.4" stroke-width="1.1"/><polyline points="349.0,519.6 351.1,519.0 353.3,519.4 355.3,518.6 356.9,518.3 358.5,517.8 360.2,517.6 361.7,517.0 363.8,516.7 365.9,516.0 368.0,515.9 369.7,515.3 371.5,514.7 373.3,514.4 375.0,514.3 376.3,512.9 378.2,513.3 379.6,512.2 381.3,511.2 383.2,511.1 384.9,510.1 386.6,509.8 388.0,508.8 389.7,508.6 391.3,508.0 392.9,507.6 394.5,507.1 396.0,506.3 397.6,505.9 399.3,505.7 400.9,505.2 402.3,504.2 403.9,503.8 405.8,502.9 407.6,501.9 409.2,500.6 411.1,499.8 412.7,498.4 414.5,497.5 416.2,496.6 417.7,495.5 419.3,494.4 420.8,493.2 422.3,492.2 424.1,491.8 425.7,491.1 427.2,490.1 429.4,490.0 431.4,489.0" stroke-width="1.9"/><polyline points="362.7,489.0 363.0,490.9 364.4,492.4 364.8,494.3 364.5,495.9 363.2,497.1 362.6,498.6 362.7,500.4 361.7,501.7 360.9,503.2 359.4,504.2 358.4,505.5 357.5,507.0 356.1,508.4 354.4,509.6 353.2,511.2 351.7,512.1 350.3,513.2 349.0,514.4" stroke-width="1.1"/><polyline points="387.0,489.0 384.9,491.1 386.9,492.3 389.1,493.2 391.0,493.0 392.8,493.0 394.6,492.3 396.5,492.2 398.1,491.4 399.1,489.8 400.8,489.0" stroke-width="1.1"/><polyline points="409.2,489.0 408.9,491.1 409.0,493.3 408.2,495.3 408.6,497.0 409.2,498.8 409.2,500.6" stroke-width="1.1"/><polyline points="349.0,529.1 351.1,529.3 353.2,530.0 355.3,530.2 356.7,532.2 357.5,534.4 357.0,536.3 356.2,538.1 355.9,540.0 355.3,541.8 353.7,542.3 352.2,543.0 350.6,543.6 349.0,543.9" stroke-width="1.1"/><polygon points="383.9,567.2 385.8,566.9 387.6,566.1 389.3,565.2 391.3,565.1 389.9,567.0 389.1,569.3 387.2,569.4 385.4,569.5 383.5,569.6 381.7,570.3" stroke-width="1.1"/><polyline points="431.4,549.2 432.1,547.7 433.3,546.5 434.3,545.2 434.7,543.5 435.8,542.2 436.7,540.8" stroke-width="1.1"/><polyline points="427.2,566.1 427.3,567.9 427.4,569.7 426.7,571.5 427.6,573.4 426.8,575.2 427.2,577.0" stroke-width="1.1"/><polygon points="444.5,489.0 443.2,490.4 442.1,492.0 441.1,493.6 440.2,495.3 439.3,496.8 438.9,498.6 438.2,500.3 437.1,501.7 437.5,503.8 438.1,505.8 438.1,508.0 439.3,509.3 440.2,510.9 441.3,512.2 442.3,514.9 442.8,513.2 444.1,511.9 444.5,510.1 446.0,508.6 446.2,506.4 447.6,504.8 448.3,503.1 449.1,501.4 449.7,499.6 450.6,497.9 450.3,495.8 451.2,494.0 451.8,492.2 452.6,490.7 452.9,489.0" stroke-width="1.1"/><polyline points="436.0,567.2 437.1,565.1 437.8,563.3 437.4,561.4 438.0,559.6 438.1,557.7 438.7,555.9 439.4,554.1 440.1,552.3 440.2,550.3 440.6,548.7 441.1,547.1 441.5,545.4 442.3,543.9 444.4,543.2 446.6,542.9 448.9,543.5 450.8,545.0 453.0,544.7 455.0,543.9 455.4,546.1 456.1,548.2 456.2,549.9 456.3,551.6 456.3,553.3 456.6,555.0 457.1,556.6 457.0,558.3 455.6,559.6 455.1,561.2 455.0,562.9 453.7,564.1 452.3,565.1 450.8,566.1 449.7,567.7 449.5,569.7 448.7,571.4 448.8,573.4 447.6,575.1 447.6,577.0" stroke-width="1.1"/><polyline points="457.1,501.7 458.1,500.3 458.6,498.7 458.5,496.9 458.8,495.2 459.8,493.8 460.3,492.2" stroke-width="1.1"/><polyline points="466.6,495.3 468.4,495.1 469.6,493.6 471.4,493.2 472.7,492.1 474.5,491.7 476.1,491.1" stroke-width="1.1"/><polyline points="568.2,228.0 569.4,230.0 571.6,230.5 573.2,231.4 575.0,230.7 576.7,230.4 578.4,231.2 580.1,231.4 580.7,233.0 580.2,235.0 581.8,236.4 581.8,238.2 583.5,238.5 585.1,239.2 586.6,240.5 588.5,239.9 590.2,239.0 591.7,237.7 593.9,237.9 595.3,236.5 597.1,236.5 598.6,235.3 600.6,236.7 602.3,236.6 603.9,235.9 605.5,234.8 606.9,236.2 608.9,235.6" stroke-width="1.6"/><polyline points="607.8,334.4 608.5,348.8 607.1,366.1 602.1,374.7 592.0,379.0 585.5,383.3 583.3,380.5 580.5,381.9 581.2,385.5 577.6,388.4 570.8,395.2 559.0,396.0 547.2,396.9 537.1,401.9 530.5,407.0" stroke-width="1.1"/><polyline points="530.5,411.1 532.3,411.1 533.9,410.7 535.4,409.4 537.1,409.4 538.7,408.6 540.6,408.9 542.3,408.3 543.9,407.7 545.6,407.3 547.2,406.5 548.9,406.3 550.6,405.8 552.2,405.2 554.0,405.1 555.6,404.5 557.3,404.6 559.0,404.4 560.7,404.4 562.4,404.8 564.1,405.3 565.8,405.5 567.5,405.2 568.3,406.7 569.2,408.2 570.2,409.5 570.8,411.1 572.1,412.6 572.5,414.4 573.9,412.8 575.9,412.0 576.7,410.6 577.4,409.1 578.3,407.7 579.6,406.5 580.1,404.9 580.9,403.5 582.6,403.4 584.2,402.9 585.9,402.5 587.6,402.6 589.2,402.6 590.9,402.0 592.6,402.0 594.4,402.2 596.1,401.5 597.7,401.1 599.3,400.1 601.3,400.0 602.9,399.2 604.6,398.5 606.3,398.0 607.8,396.9" stroke-width="1.1"/><polygon points="543.9,412.0 550.7,409.4 560.7,407.0 565.8,407.7 560.7,412.9 552.2,417.0 547.2,420.3 543.9,418.6" stroke-width="1.1"/><polygon points="530.5,412.0 532.2,412.1 533.9,412.3 535.5,413.1 537.1,413.6 538.0,415.2 538.5,416.8 538.5,418.6 538.9,420.3 537.7,421.8 537.2,423.6 536.6,425.2 536.5,427.1 535.5,428.7 534.5,430.0 533.7,431.6 532.8,433.0 531.9,434.4 530.5,435.5 528.6,434.6 527.4,432.8 525.5,432.2 525.0,430.3 524.1,428.6 523.2,426.9 522.0,425.4 521.3,423.8 521.1,422.1 521.1,420.3 520.9,418.6 520.3,417.0 521.8,415.6 523.0,413.9 523.7,412.0" stroke-width="1.3"/><polyline points="523.7,413.6 521.9,414.2 520.1,414.8 518.7,416.2 517.0,416.7 515.5,417.4 514.6,418.9 513.7,420.3 511.1,422.1" stroke-width="2.2"/><polyline points="574.7,320.0 563.2,328.6 548.8,334.4 540.2,331.5 534.4,333.0 528.6,337.3 520.0,343.0" stroke-width="1.1"/><polyline points="472.2,359.4 474.1,359.3 476.0,359.1 477.6,360.5 479.1,361.3 481.0,359.7 482.4,361.5 484.0,361.6 483.6,363.4 483.7,365.5 481.6,366.5 480.8,368.1 481.0,370.5 478.8,371.5 478.7,373.7 476.5,374.6 478.5,373.9 479.8,375.4 481.0,377.2 483.0,376.7 484.8,375.8 486.5,376.3 488.1,377.8 489.7,379.0 491.6,377.8 492.5,379.7 494.1,381.2 494.8,383.2 492.5,384.2 493.9,387.6 491.6,388.6 489.2,389.4 488.4,391.9 490.3,392.8 492.1,393.9 492.7,396.2 492.7,398.6 491.1,400.1 489.4,401.6 487.8,403.0 489.0,405.6 487.3,407.0 489.0,407.6 490.8,408.1 492.7,408.1 494.3,407.0 496.3,406.8 498.1,405.9 499.1,404.0 500.6,403.3 502.3,403.1 504.4,403.8 505.7,402.7 507.5,402.0 509.3,401.3 511.4,401.7 513.2,401.0 514.8,400.1 516.5,399.4" stroke-width="2.3"/><polygon points="489.4,415.6 492.1,414.5 495.4,415.1 492.7,416.7" stroke-width="1.0"/><polyline points="511.1,414.5 512.6,415.6 514.1,416.5 515.4,417.8 517.5,417.7 518.7,420.0 520.8,420.0 523.1,420.6 523.7,422.8 525.1,424.3" stroke-width="1.3"/><polyline points="451.9,449.0 451.1,450.7 450.9,452.5 450.0,454.1 450.3,456.2 449.0,457.7 447.3,458.2 446.1,459.4 445.3,460.8 445.0,462.9 443.2,463.4 442.5,464.8 442.2,466.5 441.7,468.0 440.4,469.2 438.4,469.5 437.1,470.6 437.7,473.5 435.1,473.1 434.6,475.0 433.4,476.2 432.9,478.0 432.2,479.6 430.4,480.5 429.9,482.2 428.8,483.6 427.3,484.5 426.1,485.7 425.9,487.9 423.5,487.9 421.9,488.7 421.6,490.8 419.4,491.0 418.6,492.9 418.0,495.2 416.7,496.4 414.4,496.6 413.6,498.5 410.8,498.0 410.4,500.4 408.9,501.5 407.2,502.3 405.2,502.3 404.6,504.5 402.8,504.8 401.5,505.9 400.0,506.7" stroke-width="2.0"/><polyline points="530.4,438.0 529.5,439.4 528.3,440.4 526.4,441.0 526.5,443.1 525.4,444.3 524.2,445.4 524.1,447.4 522.3,448.1 521.1,449.1 520.4,450.6 518.8,451.7 520.0,454.2 518.6,455.4 518.5,457.2 515.8,457.7 515.4,459.3 516.4,461.7 513.1,461.9 513.6,464.1 511.5,464.4 511.1,466.2 510.2,467.5 510.1,469.6 509.4,471.1 507.1,471.4 507.1,473.5 505.8,474.5 504.6,475.6 504.0,477.2 501.9,477.5" stroke-width="1.9" stroke-dasharray="5 4"/><polyline points="493.5,475.8 492.4,477.1 491.0,478.0 489.8,479.2 489.5,481.1 488.6,482.5 486.9,483.2 485.9,484.5 484.0,484.9 483.1,486.3 482.1,487.6 481.0,488.9 480.0,490.1" stroke-width="1.6" stroke-dasharray="3 5"/><polyline points="485.3,403.1 487.1,403.1 488.1,404.7 489.6,405.3 491.0,406.3 493.1,405.3 494.6,406.1 495.8,407.3 497.4,406.1 499.2,405.9 501.2,406.8 502.6,405.0 504.6,405.6 506.3,405.2 507.7,403.7 509.5,403.0 511.3,402.5 513.4,402.6 514.7,401.0" stroke-width="1.5"/></g>
</g>
<g fill="#000" stroke="#fff" stroke-width="1.4" stroke-linejoin="miter">
<polygon points="405.7,345.8 398.6,358.6 412.8,358.6"/>
<polygon points="430.0,432.5 444.6,425.2 444.6,439.8"/>
<polygon points="465.4,443.2 448.9,435.2 448.9,451.3"/>
<polygon points="378.2,513.2 370.8,499.2 385.2,499.2"/>
</g>
<text x="386.5" y="334.6" font-size="13" text-anchor="start" font-weight="normal" >Beijing</text>
<text x="374.6" y="437.2" font-size="13" text-anchor="start" font-weight="normal" >Nanjing</text>
<text x="474" y="447.6" font-size="13" text-anchor="start" font-weight="normal" >Shanghai</text>
<text x="345.9" y="529" font-size="13" text-anchor="start" font-weight="normal" >Hong Kong</text>
<line x1="262.4" y1="228.4" x2="262.4" y2="575.0" stroke="#111" stroke-width="1.1"/>
<line x1="259.4" y1="228.4" x2="609.0" y2="228.4" stroke="#555" stroke-width="1"/>
<line x1="262.4" y1="575.0" x2="609.0" y2="575.0" stroke="#777" stroke-width="1"/>
<line x1="609.0" y1="228.4" x2="609.0" y2="575.0" stroke="#bbb" stroke-width="1"/>
<line x1="259.4" y1="575.0" x2="262.4" y2="575.0" stroke="#333" stroke-width="1"/>
<line x1="256.4" y1="531.7" x2="262.4" y2="531.7" stroke="#333" stroke-width="1"/>
<text x="249.7" y="536.2750000000001" font-size="13" text-anchor="end" font-weight="normal" >20° N</text>
<line x1="259.4" y1="488.4" x2="262.4" y2="488.4" stroke="#333" stroke-width="1"/>
<line x1="256.4" y1="445.0" x2="262.4" y2="445.0" stroke="#333" stroke-width="1"/>
<text x="249.7" y="449.625" font-size="13" text-anchor="end" font-weight="normal" >30° N</text>
<line x1="259.4" y1="401.7" x2="262.4" y2="401.7" stroke="#333" stroke-width="1"/>
<line x1="256.4" y1="358.4" x2="262.4" y2="358.4" stroke="#333" stroke-width="1"/>
<text x="249.7" y="362.975" font-size="13" text-anchor="end" font-weight="normal" >40° N</text>
<line x1="259.4" y1="315.1" x2="262.4" y2="315.1" stroke="#333" stroke-width="1"/>
<line x1="256.4" y1="271.7" x2="262.4" y2="271.7" stroke="#333" stroke-width="1"/>
<text x="249.7" y="276.32500000000005" font-size="13" text-anchor="end" font-weight="normal" >50° N</text>
<line x1="259.4" y1="228.4" x2="262.4" y2="228.4" stroke="#333" stroke-width="1"/>
<line x1="262.4" y1="575.0" x2="262.4" y2="581.0" stroke="#333" stroke-width="1"/>
<text x="262.4" y="597.8" font-size="13" text-anchor="middle" font-weight="normal" >100° E</text>
<line x1="305.7" y1="575.0" x2="305.7" y2="578.0" stroke="#333" stroke-width="1"/>
<line x1="349.0" y1="575.0" x2="349.0" y2="581.0" stroke="#333" stroke-width="1"/>
<text x="349.04999999999995" y="597.8" font-size="13" text-anchor="middle" font-weight="normal" >110° E</text>
<line x1="392.4" y1="575.0" x2="392.4" y2="578.0" stroke="#333" stroke-width="1"/>
<line x1="435.7" y1="575.0" x2="435.7" y2="581.0" stroke="#333" stroke-width="1"/>
<text x="435.7" y="597.8" font-size="13" text-anchor="middle" font-weight="normal" >120° E</text>
<line x1="479.0" y1="575.0" x2="479.0" y2="578.0" stroke="#333" stroke-width="1"/>
<line x1="522.4" y1="575.0" x2="522.4" y2="581.0" stroke="#333" stroke-width="1"/>
<text x="522.35" y="597.8" font-size="13" text-anchor="middle" font-weight="normal" >130° E</text>
<line x1="565.7" y1="575.0" x2="565.7" y2="578.0" stroke="#333" stroke-width="1"/>
<line x1="609.0" y1="575.0" x2="609.0" y2="581.0" stroke="#333" stroke-width="1"/>
<text x="609.0" y="597.8" font-size="13" text-anchor="middle" font-weight="normal" >140° E</text>
<rect x="622.4" y="528.79" width="9.8" height="21.51" fill="#ffffff"/>
<rect x="622.4" y="507.57" width="9.8" height="21.51" fill="#fff8dc"/>
<rect x="622.4" y="486.36" width="9.8" height="21.51" fill="#feedb5"/>
<rect x="622.4" y="465.14" width="9.8" height="21.51" fill="#fddc8c"/>
<rect x="622.4" y="443.93" width="9.8" height="21.51" fill="#fcc765"/>
<rect x="622.4" y="422.71" width="9.8" height="21.51" fill="#fbb23f"/>
<rect x="622.4" y="401.50" width="9.8" height="21.51" fill="#f99a32"/>
<rect x="622.4" y="380.29" width="9.8" height="21.51" fill="#f68a2c"/>
<rect x="622.4" y="359.07" width="9.8" height="21.51" fill="#f06e2a"/>
<rect x="622.4" y="337.86" width="9.8" height="21.51" fill="#e5532c"/>
<rect x="622.4" y="316.64" width="9.8" height="21.51" fill="#d42a2a"/>
<rect x="622.4" y="295.43" width="9.8" height="21.51" fill="#c21b2a"/>
<rect x="622.4" y="274.21" width="9.8" height="21.51" fill="#a81c22"/>
<rect x="622.4" y="253.00" width="9.8" height="21.51" fill="#8e1b1e"/>
<line x1="622.4" y1="528.79" x2="632.1999999999999" y2="528.79" stroke="#222" stroke-width="0.9"/>
<line x1="622.4" y1="507.57" x2="632.1999999999999" y2="507.57" stroke="#222" stroke-width="0.9"/>
<line x1="622.4" y1="486.36" x2="632.1999999999999" y2="486.36" stroke="#222" stroke-width="0.9"/>
<line x1="622.4" y1="465.14" x2="632.1999999999999" y2="465.14" stroke="#222" stroke-width="0.9"/>
<line x1="622.4" y1="443.93" x2="632.1999999999999" y2="443.93" stroke="#222" stroke-width="0.9"/>
<line x1="622.4" y1="422.71" x2="632.1999999999999" y2="422.71" stroke="#222" stroke-width="0.9"/>
<line x1="622.4" y1="401.50" x2="632.1999999999999" y2="401.50" stroke="#222" stroke-width="0.9"/>
<line x1="622.4" y1="380.29" x2="632.1999999999999" y2="380.29" stroke="#222" stroke-width="0.9"/>
<line x1="622.4" y1="359.07" x2="632.1999999999999" y2="359.07" stroke="#222" stroke-width="0.9"/>
<line x1="622.4" y1="337.86" x2="632.1999999999999" y2="337.86" stroke="#222" stroke-width="0.9"/>
<line x1="622.4" y1="316.64" x2="632.1999999999999" y2="316.64" stroke="#222" stroke-width="0.9"/>
<line x1="622.4" y1="295.43" x2="632.1999999999999" y2="295.43" stroke="#222" stroke-width="0.9"/>
<line x1="622.4" y1="274.21" x2="632.1999999999999" y2="274.21" stroke="#222" stroke-width="0.9"/>
<rect x="622.4" y="253.0" width="9.8" height="297.0" fill="none" stroke="#555" stroke-width="0.8"/>
<text x="638.8" y="533.3857142857144" font-size="13" text-anchor="start" font-weight="normal" >0.1</text>
<text x="638.8" y="490.95714285714286" font-size="13" text-anchor="start" font-weight="normal" >0.2</text>
<text x="638.8" y="448.52857142857147" font-size="13" text-anchor="start" font-weight="normal" >0.3</text>
<text x="638.8" y="406.1" font-size="13" text-anchor="start" font-weight="normal" >0.4</text>
<text x="638.8" y="363.6714285714286" font-size="13" text-anchor="start" font-weight="normal" >0.5</text>
<text x="638.8" y="321.24285714285713" font-size="13" text-anchor="start" font-weight="normal" >0.6</text>
<text x="638.8" y="278.81428571428575" font-size="13" text-anchor="start" font-weight="normal" >0.7</text>
<text x="668" y="401.6" font-size="13" text-anchor="middle" transform="rotate(90 668 401.6)" dy="4.6">AOD</text>
<rect x="898" y="241.00" width="41" height="15" fill="#ffff00" stroke="#333" stroke-width="0.7"/>
<text x="945.5" y="253.00" font-size="13">Isoprene</text>
<rect x="898" y="261.63" width="41" height="15" fill="#5e1214" stroke="#333" stroke-width="0.7"/>
<text x="945.5" y="273.63" font-size="13">C<tspan font-size="10" dy="3.6">5</tspan></text>
<rect x="898" y="282.26" width="41" height="15" fill="#6e161a" stroke="#333" stroke-width="0.7"/>
<text x="945.5" y="294.26" font-size="13">C<tspan font-size="10" dy="3.6">6</tspan></text>
<rect x="898" y="302.89" width="41" height="15" fill="#7f1a1e" stroke="#333" stroke-width="0.7"/>
<text x="945.5" y="314.89" font-size="13">C<tspan font-size="10" dy="3.6">7</tspan></text>
<rect x="898" y="323.52" width="41" height="15" fill="#921d22" stroke="#333" stroke-width="0.7"/>
<text x="945.5" y="335.52" font-size="13">C<tspan font-size="10" dy="3.6">8</tspan></text>
<rect x="898" y="344.15" width="41" height="15" fill="#a32226" stroke="#333" stroke-width="0.7"/>
<text x="945.5" y="356.15" font-size="13">C<tspan font-size="10" dy="3.6">9</tspan></text>
<rect x="898" y="364.78" width="41" height="15" fill="#b82828" stroke="#333" stroke-width="0.7"/>
<text x="945.5" y="376.78" font-size="13">Other aliphatic</text>
<rect x="898" y="385.41" width="41" height="15" fill="#0e3a6a" stroke="#333" stroke-width="0.7"/>
<text x="945.5" y="397.41" font-size="13">C<tspan font-size="10" dy="3.6">5</tspan></text>
<rect x="898" y="406.04" width="41" height="15" fill="#114d8c" stroke="#333" stroke-width="0.7"/>
<text x="945.5" y="418.04" font-size="13">C<tspan font-size="10" dy="3.6">6</tspan></text>
<rect x="898" y="426.67" width="41" height="15" fill="#1459a3" stroke="#333" stroke-width="0.7"/>
<text x="945.5" y="438.67" font-size="13">C<tspan font-size="10" dy="3.6">7</tspan></text>
<rect x="898" y="447.30" width="41" height="15" fill="#1e65b4" stroke="#333" stroke-width="0.7"/>
<text x="945.5" y="459.30" font-size="13">C<tspan font-size="10" dy="3.6">8</tspan></text>
<rect x="898" y="467.93" width="41" height="15" fill="#2770be" stroke="#333" stroke-width="0.7"/>
<text x="945.5" y="479.93" font-size="13">C<tspan font-size="10" dy="3.6">9</tspan></text>
<rect x="898" y="488.56" width="41" height="15" fill="#2f7bc4" stroke="#333" stroke-width="0.7"/>
<text x="945.5" y="500.56" font-size="13">Other aromatic</text>
<rect x="898" y="509.19" width="41" height="15" fill="#dcdcdc" stroke="#333" stroke-width="0.7"/>
<text x="945.5" y="521.19" font-size="13">Undistinguished</text>
<rect x="898" y="529.82" width="41" height="15" fill="#d1b300" stroke="#333" stroke-width="0.7"/>
<text x="945.5" y="541.82" font-size="13">Monoterpene</text>
</svg></body></html>
